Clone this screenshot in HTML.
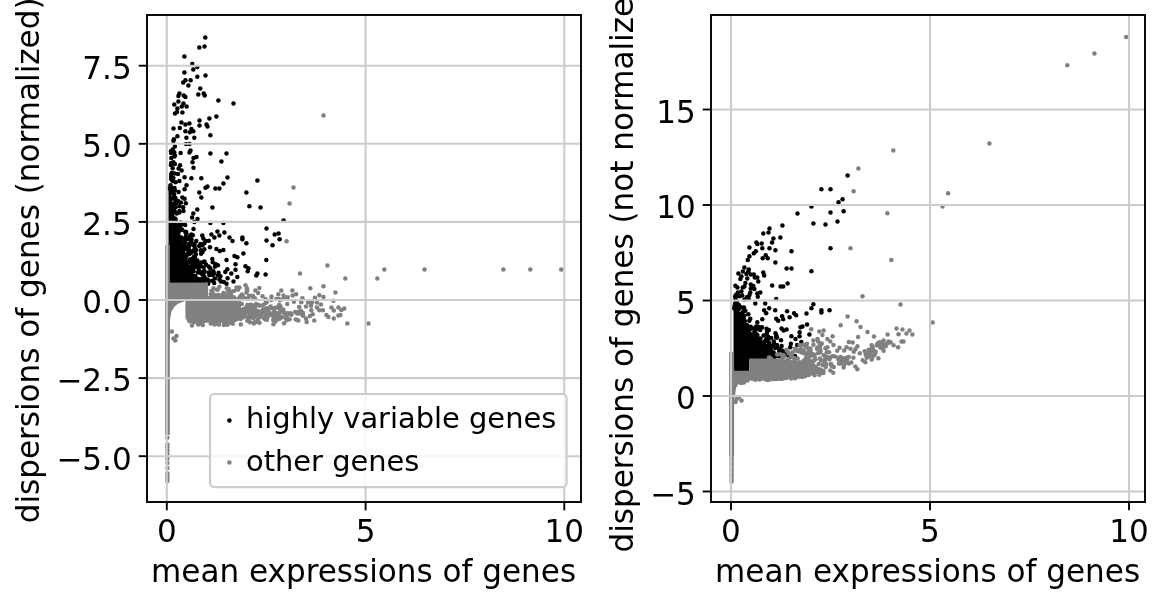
<!DOCTYPE html>
<html lang="en"><head><meta charset="utf-8"><title>highly variable genes</title>
<style>
html,body{margin:0;padding:0;background:#fff;}
body{width:1164px;height:604px;overflow:hidden;}
svg{display:block;will-change:transform;}
text{font-family:"DejaVu Sans", "Liberation Sans", sans-serif;fill:#000;}
.t{font-size:31.05px;}
.lg{font-size:28.9px;}
.sp{fill:none;stroke:#000;stroke-width:1.9;stroke-linecap:square;}
.tk{stroke:#000;stroke-width:1.9;}
.gr{stroke:#cccccc;stroke-width:2.1;}
.k{fill:#000;}
.g{fill:#808080;}
</style></head><body>
<svg width="1164" height="604" viewBox="0 0 1164 604">
<rect width="1164" height="604" fill="#fff"/>
<clipPath id="c0"><rect x="147" y="15" width="434" height="487"/></clipPath>
<g clip-path="url(#c0)">
<g class="k"><path d="M168.5,184 L171,184 L172,205 L176,222 L180,233 L184,247 L188,261 L194,275 L198,286.5 L168.5,286.5 Z"/><circle cx="205.3" cy="37.5" r="2.25"/><circle cx="199.3" cy="47.4" r="2.25"/><circle cx="204.5" cy="46.4" r="2.25"/><circle cx="184.4" cy="56.4" r="2.25"/><circle cx="192.3" cy="64.1" r="2.25"/><circle cx="197.3" cy="66.9" r="2.25"/><circle cx="193.3" cy="69.5" r="2.25"/><circle cx="184.4" cy="72.5" r="2.25"/><circle cx="205.5" cy="75.5" r="2.25"/><circle cx="197.3" cy="76.7" r="2.25"/><circle cx="190.6" cy="80.2" r="2.25"/><circle cx="185.4" cy="80.2" r="2.25"/><circle cx="183.2" cy="82.4" r="2.25"/><circle cx="188.4" cy="85.4" r="2.25"/><circle cx="200.3" cy="88.6" r="2.25"/><circle cx="179.4" cy="93.6" r="2.25"/><circle cx="198.3" cy="94.6" r="2.25"/><circle cx="203.7" cy="93.6" r="2.25"/><circle cx="204.7" cy="95.5" r="2.25"/><circle cx="178.4" cy="96.1" r="2.25"/><circle cx="183.8" cy="95.5" r="2.25"/><circle cx="185.4" cy="97.1" r="2.25"/><circle cx="218.4" cy="100.5" r="2.25"/><circle cx="233.5" cy="103.5" r="2.25"/><circle cx="178.4" cy="101.5" r="2.25"/><circle cx="174.3" cy="104.5" r="2.25"/><circle cx="183.4" cy="103.5" r="2.25"/><circle cx="181.8" cy="106.5" r="2.25"/><circle cx="186.6" cy="106.5" r="2.25"/><circle cx="177.4" cy="108.5" r="2.25"/><circle cx="177.0" cy="112.0" r="2.25"/><circle cx="175.0" cy="113.4" r="2.25"/><circle cx="182.4" cy="112.4" r="2.25"/><circle cx="216.4" cy="116.6" r="2.25"/><circle cx="209.4" cy="118.4" r="2.25"/><circle cx="199.5" cy="120.4" r="2.25"/><circle cx="181.4" cy="122.4" r="2.25"/><circle cx="185.4" cy="124.4" r="2.25"/><circle cx="189.4" cy="123.4" r="2.25"/><circle cx="199.5" cy="125.4" r="2.25"/><circle cx="206.5" cy="124.4" r="2.25"/><circle cx="207.5" cy="126.4" r="2.25"/><circle cx="173.5" cy="128.4" r="2.25"/><circle cx="179.8" cy="128.0" r="2.25"/><circle cx="191.4" cy="129.0" r="2.25"/><circle cx="185.4" cy="131.3" r="2.25"/><circle cx="189.8" cy="132.3" r="2.25"/><circle cx="193.3" cy="131.3" r="2.25"/><circle cx="210.4" cy="135.3" r="2.25"/><circle cx="177.4" cy="136.3" r="2.25"/><circle cx="186.4" cy="137.7" r="2.25"/><circle cx="194.3" cy="137.7" r="2.25"/><circle cx="173.9" cy="139.3" r="2.25"/><circle cx="210.4" cy="153.5" r="2.25"/><circle cx="226.5" cy="153.5" r="2.25"/><circle cx="221.4" cy="161.4" r="2.25"/><circle cx="227.5" cy="177.5" r="2.25"/><circle cx="257.4" cy="180.5" r="2.25"/><circle cx="223.4" cy="183.5" r="2.25"/><circle cx="201.3" cy="178.3" r="2.25"/><circle cx="191.4" cy="178.3" r="2.25"/><circle cx="184.6" cy="177.3" r="2.25"/><circle cx="207.5" cy="186.5" r="2.25"/><circle cx="205.5" cy="187.7" r="2.25"/><circle cx="215.4" cy="188.4" r="2.25"/><circle cx="219.4" cy="188.4" r="2.25"/><circle cx="246.4" cy="192.4" r="2.25"/><circle cx="199.3" cy="192.4" r="2.25"/><circle cx="201.3" cy="197.6" r="2.25"/><circle cx="249.4" cy="206.3" r="2.25"/><circle cx="260.5" cy="207.5" r="2.25"/><circle cx="212.4" cy="207.5" r="2.25"/><circle cx="197.3" cy="209.5" r="2.25"/><circle cx="193.3" cy="213.5" r="2.25"/><circle cx="283.6" cy="220.5" r="2.25"/><circle cx="210.4" cy="223.0" r="2.25"/><circle cx="223.4" cy="223.0" r="2.25"/><circle cx="194.3" cy="222.0" r="2.25"/><circle cx="266.5" cy="228.4" r="2.25"/><circle cx="217.4" cy="231.4" r="2.25"/><circle cx="224.4" cy="232.6" r="2.25"/><circle cx="211.4" cy="234.4" r="2.25"/><circle cx="219.4" cy="235.4" r="2.25"/><circle cx="214.4" cy="237.4" r="2.25"/><circle cx="274.7" cy="234.4" r="2.25"/><circle cx="278.6" cy="233.4" r="2.25"/><circle cx="279.6" cy="239.3" r="2.25"/><circle cx="266.5" cy="240.5" r="2.25"/><circle cx="272.5" cy="245.3" r="2.25"/><circle cx="242.4" cy="237.4" r="2.25"/><circle cx="242.4" cy="239.3" r="2.25"/><circle cx="246.4" cy="243.3" r="2.25"/><circle cx="229.5" cy="237.4" r="2.25"/><circle cx="232.5" cy="240.9" r="2.25"/><circle cx="202.3" cy="235.4" r="2.25"/><circle cx="203.3" cy="238.4" r="2.25"/><circle cx="191.4" cy="234.4" r="2.25"/><circle cx="191.4" cy="239.3" r="2.25"/><circle cx="204.3" cy="243.3" r="2.25"/><circle cx="201.3" cy="245.3" r="2.25"/><circle cx="216.4" cy="248.9" r="2.25"/><circle cx="223.4" cy="250.0" r="2.25"/><circle cx="173.4" cy="141.1" r="2.25"/><circle cx="186.1" cy="144.1" r="2.25"/><circle cx="189.5" cy="144.1" r="2.25"/><circle cx="174.9" cy="146.6" r="2.25"/><circle cx="172.7" cy="149.6" r="2.25"/><circle cx="190.5" cy="150.6" r="2.25"/><circle cx="189.5" cy="152.6" r="2.25"/><circle cx="171.2" cy="153.0" r="2.25"/><circle cx="180.6" cy="153.0" r="2.25"/><circle cx="174.9" cy="155.5" r="2.25"/><circle cx="196.5" cy="157.0" r="2.25"/><circle cx="193.5" cy="158.1" r="2.25"/><circle cx="192.5" cy="162.2" r="2.25"/><circle cx="171.2" cy="163.0" r="2.25"/><circle cx="173.4" cy="162.2" r="2.25"/><circle cx="174.9" cy="164.0" r="2.25"/><circle cx="180.1" cy="165.2" r="2.25"/><circle cx="193.5" cy="167.7" r="2.25"/><circle cx="172.7" cy="168.2" r="2.25"/><circle cx="178.6" cy="168.5" r="2.25"/><circle cx="181.6" cy="170.4" r="2.25"/><circle cx="171.9" cy="172.7" r="2.25"/><circle cx="177.9" cy="173.9" r="2.25"/><circle cx="171.2" cy="176.4" r="2.25"/><circle cx="173.4" cy="177.9" r="2.25"/><circle cx="179.4" cy="180.9" r="2.25"/><circle cx="175.6" cy="182.3" r="2.25"/><circle cx="172.7" cy="180.9" r="2.25"/><circle cx="186.5" cy="185.3" r="2.25"/><circle cx="184.6" cy="189.3" r="2.25"/><circle cx="174.9" cy="190.5" r="2.25"/><circle cx="178.6" cy="192.0" r="2.25"/><circle cx="174.1" cy="194.3" r="2.25"/><circle cx="182.3" cy="197.5" r="2.25"/><circle cx="184.6" cy="198.7" r="2.25"/><circle cx="177.9" cy="201.0" r="2.25"/><circle cx="180.9" cy="202.5" r="2.25"/><circle cx="185.8" cy="203.2" r="2.25"/><circle cx="179.4" cy="206.2" r="2.25"/><circle cx="183.1" cy="207.2" r="2.25"/><circle cx="179.4" cy="211.1" r="2.25"/><circle cx="183.5" cy="211.1" r="2.25"/><circle cx="226.5" cy="260.0" r="2.25"/><circle cx="266.3" cy="260.0" r="2.25"/><circle cx="235.5" cy="264.2" r="2.25"/><circle cx="245.5" cy="266.3" r="2.25"/><circle cx="248.4" cy="268.2" r="2.25"/><circle cx="247.7" cy="271.2" r="2.25"/><circle cx="235.5" cy="269.7" r="2.25"/><circle cx="227.3" cy="269.2" r="2.25"/><circle cx="225.3" cy="271.9" r="2.25"/><circle cx="231.3" cy="273.4" r="2.25"/><circle cx="257.4" cy="273.4" r="2.25"/><circle cx="256.3" cy="275.4" r="2.25"/><circle cx="265.6" cy="274.5" r="2.25"/><circle cx="237.3" cy="277.1" r="2.25"/><circle cx="227.6" cy="278.2" r="2.25"/><circle cx="233.5" cy="281.6" r="2.25"/><circle cx="223.8" cy="282.1" r="2.25"/><circle cx="226.5" cy="283.8" r="2.25"/><circle cx="217.9" cy="265.2" r="2.25"/><circle cx="214.9" cy="266.7" r="2.25"/><circle cx="212.7" cy="262.2" r="2.25"/><circle cx="204.5" cy="261.5" r="2.25"/><circle cx="206.0" cy="264.5" r="2.25"/><circle cx="203.7" cy="267.5" r="2.25"/><circle cx="213.4" cy="271.2" r="2.25"/><circle cx="218.6" cy="272.7" r="2.25"/><circle cx="217.9" cy="275.6" r="2.25"/><circle cx="212.7" cy="274.9" r="2.25"/><circle cx="214.9" cy="278.6" r="2.25"/><circle cx="219.4" cy="279.4" r="2.25"/><circle cx="220.9" cy="281.6" r="2.25"/><circle cx="208.9" cy="280.9" r="2.25"/><circle cx="214.2" cy="283.1" r="2.25"/><circle cx="202.2" cy="274.2" r="2.25"/><circle cx="201.5" cy="279.4" r="2.25"/><circle cx="204.5" cy="271.2" r="2.25"/><circle cx="200.8" cy="250.3" r="2.25"/><circle cx="202.5" cy="252.1" r="2.25"/><circle cx="194.5" cy="246.5" r="2.25"/><circle cx="195.2" cy="249.3" r="2.25"/><circle cx="219.8" cy="251.1" r="2.25"/><circle cx="243.4" cy="253.5" r="2.25"/><circle cx="234.5" cy="255.9" r="2.25"/><circle cx="237.4" cy="257.3" r="2.25"/><circle cx="212.3" cy="259.1" r="2.25"/><circle cx="204.3" cy="276.7" r="2.25"/><circle cx="200.8" cy="272.5" r="2.25"/><circle cx="198.7" cy="269.0" r="2.25"/><circle cx="197.3" cy="260.6" r="2.25"/><circle cx="198.0" cy="264.1" r="2.25"/><circle cx="193.8" cy="257.0" r="2.25"/><circle cx="195.9" cy="254.2" r="2.25"/><circle cx="190.9" cy="262.2" r="2.25"/><circle cx="202.3" cy="271.9" r="2.25"/><circle cx="192.0" cy="264.4" r="2.25"/><circle cx="176.6" cy="213.4" r="2.25"/><circle cx="190.3" cy="235.6" r="2.25"/><circle cx="199.7" cy="263.9" r="2.25"/><circle cx="175.5" cy="207.2" r="2.25"/><circle cx="172.4" cy="190.3" r="2.25"/><circle cx="188.6" cy="247.9" r="2.25"/><circle cx="173.7" cy="210.3" r="2.25"/><circle cx="189.1" cy="254.0" r="2.25"/><circle cx="175.8" cy="201.2" r="2.25"/><circle cx="184.5" cy="248.9" r="2.25"/><circle cx="190.0" cy="239.2" r="2.25"/><circle cx="175.5" cy="221.5" r="2.25"/><circle cx="177.3" cy="224.1" r="2.25"/><circle cx="201.0" cy="266.2" r="2.25"/><circle cx="189.0" cy="244.0" r="2.25"/><circle cx="189.4" cy="252.5" r="2.25"/><circle cx="172.8" cy="209.5" r="2.25"/><circle cx="204.2" cy="281.1" r="2.25"/><circle cx="193.4" cy="251.1" r="2.25"/><circle cx="202.1" cy="278.9" r="2.25"/><circle cx="176.0" cy="200.3" r="2.25"/><circle cx="190.5" cy="240.3" r="2.25"/><circle cx="187.7" cy="249.1" r="2.25"/><circle cx="177.0" cy="226.4" r="2.25"/><circle cx="198.9" cy="272.1" r="2.25"/><circle cx="169.4" cy="188.5" r="2.25"/><circle cx="189.7" cy="250.7" r="2.25"/><circle cx="199.3" cy="271.8" r="2.25"/><circle cx="190.4" cy="253.2" r="2.25"/><circle cx="194.0" cy="265.7" r="2.25"/><circle cx="196.7" cy="266.1" r="2.25"/><circle cx="196.7" cy="264.0" r="2.25"/><circle cx="174.3" cy="208.3" r="2.25"/><circle cx="176.5" cy="203.6" r="2.25"/><circle cx="184.6" cy="242.4" r="2.25"/><circle cx="207.7" cy="279.6" r="2.25"/><circle cx="189.5" cy="236.7" r="2.25"/><circle cx="191.2" cy="259.0" r="2.25"/><circle cx="203.9" cy="272.3" r="2.25"/><circle cx="172.7" cy="192.8" r="2.25"/><circle cx="205.4" cy="279.5" r="2.25"/><circle cx="191.4" cy="252.5" r="2.25"/><circle cx="200.8" cy="281.5" r="2.25"/><circle cx="172.6" cy="205.9" r="2.25"/><circle cx="194.9" cy="276.0" r="2.25"/><circle cx="188.9" cy="245.4" r="2.25"/><circle cx="194.5" cy="250.8" r="2.25"/><circle cx="185.2" cy="231.8" r="2.25"/><circle cx="173.4" cy="204.1" r="2.25"/><circle cx="195.2" cy="261.1" r="2.25"/><circle cx="194.8" cy="264.8" r="2.25"/><circle cx="193.8" cy="276.0" r="2.25"/><circle cx="170.6" cy="188.0" r="2.25"/><circle cx="174.5" cy="188.1" r="2.25"/><circle cx="187.7" cy="238.9" r="2.25"/><circle cx="188.9" cy="246.0" r="2.25"/><circle cx="195.9" cy="280.4" r="2.25"/><circle cx="175.5" cy="219.3" r="2.25"/><circle cx="186.6" cy="247.6" r="2.25"/><circle cx="192.9" cy="270.8" r="2.25"/><circle cx="184.6" cy="248.8" r="2.25"/><circle cx="193.1" cy="251.0" r="2.25"/><circle cx="197.2" cy="265.0" r="2.25"/><circle cx="193.5" cy="271.3" r="2.25"/><circle cx="197.9" cy="278.9" r="2.25"/><circle cx="179.3" cy="230.9" r="2.25"/><circle cx="182.4" cy="223.4" r="2.25"/><circle cx="194.4" cy="267.6" r="2.25"/><circle cx="183.4" cy="239.0" r="2.25"/><circle cx="174.9" cy="218.4" r="2.25"/><circle cx="190.0" cy="260.0" r="2.25"/><circle cx="171.1" cy="198.9" r="2.25"/><circle cx="179.4" cy="212.5" r="2.25"/><circle cx="187.7" cy="246.9" r="2.25"/><circle cx="201.4" cy="272.9" r="2.25"/><circle cx="195.2" cy="262.3" r="2.25"/><circle cx="180.6" cy="222.4" r="2.25"/><circle cx="189.8" cy="260.5" r="2.25"/><circle cx="190.2" cy="238.7" r="2.25"/><circle cx="175.0" cy="198.4" r="2.25"/><circle cx="194.5" cy="249.4" r="2.25"/><circle cx="204.6" cy="278.3" r="2.25"/><circle cx="178.0" cy="224.8" r="2.25"/><circle cx="194.9" cy="260.7" r="2.25"/><circle cx="182.2" cy="229.7" r="2.25"/><circle cx="186.6" cy="239.3" r="2.25"/><circle cx="195.0" cy="256.9" r="2.25"/><circle cx="195.4" cy="276.4" r="2.25"/><circle cx="191.1" cy="267.1" r="2.25"/><circle cx="173.6" cy="197.5" r="2.25"/><circle cx="179.9" cy="229.9" r="2.25"/><circle cx="203.7" cy="275.9" r="2.25"/><circle cx="171.1" cy="189.2" r="2.25"/><circle cx="186.4" cy="256.8" r="2.25"/><circle cx="208.2" cy="283.8" r="2.25"/><circle cx="173.9" cy="210.2" r="2.25"/><circle cx="173.2" cy="198.3" r="2.25"/><circle cx="175.3" cy="198.1" r="2.25"/><circle cx="186.2" cy="233.6" r="2.25"/><circle cx="174.9" cy="212.1" r="2.25"/><circle cx="185.7" cy="236.7" r="2.25"/><circle cx="185.2" cy="224.9" r="2.25"/><circle cx="171.5" cy="203.6" r="2.25"/><circle cx="199.0" cy="282.3" r="2.25"/><circle cx="202.2" cy="281.3" r="2.25"/><circle cx="172.8" cy="190.0" r="2.25"/><circle cx="172.4" cy="192.5" r="2.25"/><circle cx="202.8" cy="272.6" r="2.25"/><circle cx="196.4" cy="260.8" r="2.25"/><circle cx="188.0" cy="253.0" r="2.25"/><circle cx="192.4" cy="244.6" r="2.25"/><circle cx="184.7" cy="242.6" r="2.25"/><circle cx="196.2" cy="264.8" r="2.25"/><circle cx="200.3" cy="279.4" r="2.25"/><circle cx="188.7" cy="254.0" r="2.25"/><circle cx="190.4" cy="251.8" r="2.25"/><circle cx="195.4" cy="261.6" r="2.25"/><circle cx="186.2" cy="232.1" r="2.25"/><circle cx="181.2" cy="237.4" r="2.25"/><circle cx="191.3" cy="241.3" r="2.25"/><circle cx="184.1" cy="248.0" r="2.25"/><circle cx="184.3" cy="244.3" r="2.25"/><circle cx="197.8" cy="272.4" r="2.25"/><circle cx="192.8" cy="259.8" r="2.25"/><circle cx="196.2" cy="265.3" r="2.25"/><circle cx="197.1" cy="266.5" r="2.25"/><circle cx="180.6" cy="225.9" r="2.25"/><circle cx="208.7" cy="266.6" r="2.25"/><circle cx="210.0" cy="247.3" r="2.25"/><circle cx="196.1" cy="249.9" r="2.25"/><circle cx="212.0" cy="272.3" r="2.25"/><circle cx="213.9" cy="273.5" r="2.25"/><circle cx="199.2" cy="246.0" r="2.25"/><circle cx="192.1" cy="217.4" r="2.25"/><circle cx="211.0" cy="274.6" r="2.25"/><circle cx="201.1" cy="253.7" r="2.25"/><circle cx="203.7" cy="262.0" r="2.25"/><circle cx="194.6" cy="244.1" r="2.25"/><circle cx="192.8" cy="235.3" r="2.25"/><circle cx="202.7" cy="244.9" r="2.25"/><circle cx="208.8" cy="240.8" r="2.25"/><circle cx="212.4" cy="280.7" r="2.25"/><circle cx="196.3" cy="241.1" r="2.25"/><circle cx="220.4" cy="276.3" r="2.25"/><circle cx="201.0" cy="262.5" r="2.25"/><circle cx="209.3" cy="275.1" r="2.25"/><circle cx="204.3" cy="249.3" r="2.25"/><circle cx="200.5" cy="244.1" r="2.25"/><circle cx="208.5" cy="272.4" r="2.25"/><circle cx="210.2" cy="268.2" r="2.25"/><circle cx="205.6" cy="240.9" r="2.25"/><circle cx="193.5" cy="229.0" r="2.25"/><circle cx="215.4" cy="264.0" r="2.25"/><circle cx="197.5" cy="218.9" r="2.25"/><circle cx="211.6" cy="271.6" r="2.25"/><circle cx="174.4" cy="156.6" r="2.25"/><circle cx="174.6" cy="173.4" r="2.25"/><circle cx="171.3" cy="158.0" r="2.25"/><circle cx="171.7" cy="179.7" r="2.25"/><circle cx="171.7" cy="151.2" r="2.25"/><circle cx="171.2" cy="174.5" r="2.25"/><circle cx="171.1" cy="178.8" r="2.25"/><circle cx="171.3" cy="164.7" r="2.25"/><circle cx="170.9" cy="164.9" r="2.25"/><circle cx="171.0" cy="151.2" r="2.25"/><circle cx="170.9" cy="188.3" r="2.25"/><circle cx="174.2" cy="152.3" r="2.25"/><circle cx="173.3" cy="163.3" r="2.25"/><circle cx="170.6" cy="185.2" r="2.25"/></g>
<g class="g"><rect x="165.1" y="245" width="4.7" height="190"/><rect x="166" y="282.6" width="42" height="18"/><path d="M166,299 L186,299 L183.8,301.6 L177.9,303.8 L174.4,306.8 L171.4,311.7 L170.1,319.7 L169.9,329.6 L169.8,340 L166,340 Z"/><path d="M185.4,299 L241,299 L241,318 L238,321 L233,323 L226,321.5 L219,323.5 L212,321 L205,323 L198,321.5 L192,323 L187.5,321.5 L185.4,318 Z"/><circle cx="323.5" cy="115.4" r="2.25"/><circle cx="293.5" cy="187.5" r="2.25"/><circle cx="289.6" cy="203.6" r="2.25"/><circle cx="286.6" cy="241.3" r="2.25"/><circle cx="327.4" cy="265.4" r="2.25"/><circle cx="384.3" cy="269.4" r="2.25"/><circle cx="424.5" cy="269.4" r="2.25"/><circle cx="377.3" cy="278.4" r="2.25"/><circle cx="345.3" cy="278.4" r="2.25"/><circle cx="300.0" cy="273.4" r="2.25"/><circle cx="323.5" cy="286.3" r="2.25"/><circle cx="310.3" cy="288.3" r="2.25"/><circle cx="335.4" cy="292.5" r="2.25"/><circle cx="319.3" cy="295.3" r="2.25"/><circle cx="323.5" cy="297.1" r="2.25"/><circle cx="314.9" cy="297.7" r="2.25"/><circle cx="302.4" cy="298.3" r="2.25"/><circle cx="308.0" cy="302.6" r="2.25"/><circle cx="311.9" cy="302.6" r="2.25"/><circle cx="316.9" cy="302.6" r="2.25"/><circle cx="320.9" cy="304.6" r="2.25"/><circle cx="316.9" cy="307.6" r="2.25"/><circle cx="319.3" cy="310.2" r="2.25"/><circle cx="311.3" cy="310.2" r="2.25"/><circle cx="306.0" cy="306.6" r="2.25"/><circle cx="331.4" cy="307.6" r="2.25"/><circle cx="333.8" cy="310.6" r="2.25"/><circle cx="338.4" cy="307.6" r="2.25"/><circle cx="344.3" cy="308.6" r="2.25"/><circle cx="341.4" cy="310.0" r="2.25"/><circle cx="326.4" cy="315.1" r="2.25"/><circle cx="328.4" cy="317.1" r="2.25"/><circle cx="333.8" cy="318.5" r="2.25"/><circle cx="338.4" cy="315.5" r="2.25"/><circle cx="340.4" cy="315.1" r="2.25"/><circle cx="347.3" cy="323.5" r="2.25"/><circle cx="368.4" cy="323.5" r="2.25"/><circle cx="314.3" cy="320.5" r="2.25"/><circle cx="309.9" cy="316.1" r="2.25"/><circle cx="306.0" cy="318.5" r="2.25"/><circle cx="306.6" cy="321.9" r="2.25"/><circle cx="302.0" cy="312.6" r="2.25"/><circle cx="303.0" cy="315.5" r="2.25"/><circle cx="300.0" cy="313.6" r="2.25"/><circle cx="503.4" cy="269.4" r="2.25"/><circle cx="530.3" cy="269.4" r="2.25"/><circle cx="561.3" cy="269.4" r="2.25"/><circle cx="292.4" cy="290.6" r="2.25"/><circle cx="296.1" cy="294.3" r="2.25"/><circle cx="283.5" cy="295.5" r="2.25"/><circle cx="276.3" cy="299.0" r="2.25"/><circle cx="259.3" cy="288.0" r="2.25"/><circle cx="255.4" cy="290.6" r="2.25"/><circle cx="258.1" cy="293.1" r="2.25"/><circle cx="262.6" cy="296.2" r="2.25"/><circle cx="252.9" cy="295.8" r="2.25"/><circle cx="245.5" cy="285.3" r="2.25"/><circle cx="246.9" cy="288.3" r="2.25"/><circle cx="236.5" cy="287.6" r="2.25"/><circle cx="239.5" cy="287.6" r="2.25"/><circle cx="238.0" cy="289.8" r="2.25"/><circle cx="241.7" cy="294.6" r="2.25"/><circle cx="240.2" cy="296.5" r="2.25"/><circle cx="226.8" cy="288.3" r="2.25"/><circle cx="219.4" cy="286.8" r="2.25"/><circle cx="217.1" cy="289.8" r="2.25"/><circle cx="223.8" cy="293.1" r="2.25"/><circle cx="228.3" cy="295.8" r="2.25"/><circle cx="287.2" cy="304.0" r="2.25"/><circle cx="293.9" cy="301.7" r="2.25"/><circle cx="171.8" cy="331.5" r="2.25"/><circle cx="173.5" cy="338.5" r="2.25"/><circle cx="176.5" cy="336.0" r="2.25"/><circle cx="175.3" cy="340.5" r="2.25"/><circle cx="167.4" cy="437.7" r="2.25"/><circle cx="167.4" cy="444.5" r="2.25"/><circle cx="167.4" cy="447.5" r="2.25"/><circle cx="167.4" cy="450.5" r="2.25"/><circle cx="167.4" cy="453.8" r="2.25"/><circle cx="167.4" cy="458.8" r="2.25"/><circle cx="167.4" cy="463.0" r="2.25"/><circle cx="167.4" cy="468.0" r="2.25"/><circle cx="167.4" cy="473.5" r="2.25"/><circle cx="167.4" cy="476.0" r="2.25"/><circle cx="167.4" cy="478.5" r="2.25"/><circle cx="167.4" cy="481.0" r="2.25"/><circle cx="258.7" cy="304.9" r="2.25"/><circle cx="226.7" cy="318.7" r="2.25"/><circle cx="230.1" cy="313.7" r="2.25"/><circle cx="194.7" cy="316.7" r="2.25"/><circle cx="225.3" cy="304.3" r="2.25"/><circle cx="243.9" cy="309.3" r="2.25"/><circle cx="203.4" cy="309.8" r="2.25"/><circle cx="250.0" cy="322.3" r="2.25"/><circle cx="204.2" cy="311.3" r="2.25"/><circle cx="189.7" cy="304.7" r="2.25"/><circle cx="207.2" cy="314.2" r="2.25"/><circle cx="202.4" cy="307.6" r="2.25"/><circle cx="195.0" cy="315.6" r="2.25"/><circle cx="223.2" cy="318.1" r="2.25"/><circle cx="194.9" cy="313.6" r="2.25"/><circle cx="256.1" cy="304.1" r="2.25"/><circle cx="196.8" cy="311.4" r="2.25"/><circle cx="219.4" cy="303.0" r="2.25"/><circle cx="197.1" cy="308.5" r="2.25"/><circle cx="210.1" cy="310.2" r="2.25"/><circle cx="230.3" cy="314.5" r="2.25"/><circle cx="225.3" cy="312.2" r="2.25"/><circle cx="201.4" cy="314.7" r="2.25"/><circle cx="229.2" cy="321.6" r="2.25"/><circle cx="198.3" cy="313.4" r="2.25"/><circle cx="204.7" cy="316.1" r="2.25"/><circle cx="215.1" cy="311.9" r="2.25"/><circle cx="194.0" cy="322.2" r="2.25"/><circle cx="212.1" cy="311.8" r="2.25"/><circle cx="218.8" cy="319.4" r="2.25"/><circle cx="247.4" cy="320.7" r="2.25"/><circle cx="262.6" cy="312.1" r="2.25"/><circle cx="295.8" cy="319.5" r="2.25"/><circle cx="200.8" cy="306.8" r="2.25"/><circle cx="220.9" cy="308.7" r="2.25"/><circle cx="215.2" cy="317.7" r="2.25"/><circle cx="222.9" cy="314.9" r="2.25"/><circle cx="199.2" cy="317.3" r="2.25"/><circle cx="212.6" cy="318.0" r="2.25"/><circle cx="199.9" cy="307.1" r="2.25"/><circle cx="202.0" cy="308.0" r="2.25"/><circle cx="302.9" cy="315.4" r="2.25"/><circle cx="205.6" cy="312.3" r="2.25"/><circle cx="198.7" cy="316.7" r="2.25"/><circle cx="233.6" cy="310.1" r="2.25"/><circle cx="214.3" cy="324.2" r="2.25"/><circle cx="229.2" cy="312.7" r="2.25"/><circle cx="209.5" cy="320.3" r="2.25"/><circle cx="231.8" cy="307.2" r="2.25"/><circle cx="217.2" cy="314.6" r="2.25"/><circle cx="213.4" cy="303.2" r="2.25"/><circle cx="281.9" cy="317.2" r="2.25"/><circle cx="197.2" cy="310.9" r="2.25"/><circle cx="198.4" cy="315.1" r="2.25"/><circle cx="216.9" cy="314.8" r="2.25"/><circle cx="220.6" cy="310.3" r="2.25"/><circle cx="218.7" cy="318.3" r="2.25"/><circle cx="219.6" cy="310.3" r="2.25"/><circle cx="216.1" cy="315.9" r="2.25"/><circle cx="208.6" cy="306.4" r="2.25"/><circle cx="225.1" cy="311.7" r="2.25"/><circle cx="213.4" cy="323.2" r="2.25"/><circle cx="222.9" cy="310.3" r="2.25"/><circle cx="192.2" cy="314.3" r="2.25"/><circle cx="267.6" cy="310.5" r="2.25"/><circle cx="190.2" cy="320.8" r="2.25"/><circle cx="227.6" cy="316.1" r="2.25"/><circle cx="203.3" cy="308.0" r="2.25"/><circle cx="191.1" cy="315.3" r="2.25"/><circle cx="204.1" cy="302.7" r="2.25"/><circle cx="224.4" cy="308.3" r="2.25"/><circle cx="197.0" cy="308.4" r="2.25"/><circle cx="223.0" cy="313.6" r="2.25"/><circle cx="229.0" cy="323.1" r="2.25"/><circle cx="191.8" cy="306.8" r="2.25"/><circle cx="219.6" cy="309.5" r="2.25"/><circle cx="188.1" cy="300.7" r="2.25"/><circle cx="199.2" cy="303.6" r="2.25"/><circle cx="214.2" cy="311.5" r="2.25"/><circle cx="196.8" cy="311.3" r="2.25"/><circle cx="197.5" cy="308.4" r="2.25"/><circle cx="237.7" cy="312.4" r="2.25"/><circle cx="225.5" cy="323.0" r="2.25"/><circle cx="198.8" cy="315.5" r="2.25"/><circle cx="191.4" cy="319.4" r="2.25"/><circle cx="209.6" cy="311.6" r="2.25"/><circle cx="199.2" cy="312.2" r="2.25"/><circle cx="212.0" cy="311.6" r="2.25"/><circle cx="283.5" cy="311.6" r="2.25"/><circle cx="224.2" cy="311.9" r="2.25"/><circle cx="201.7" cy="314.7" r="2.25"/><circle cx="253.3" cy="306.9" r="2.25"/><circle cx="200.9" cy="316.7" r="2.25"/><circle cx="205.6" cy="312.5" r="2.25"/><circle cx="263.0" cy="309.5" r="2.25"/><circle cx="198.4" cy="308.9" r="2.25"/><circle cx="189.8" cy="301.0" r="2.25"/><circle cx="238.1" cy="309.7" r="2.25"/><circle cx="189.6" cy="314.8" r="2.25"/><circle cx="232.8" cy="304.0" r="2.25"/><circle cx="228.5" cy="310.8" r="2.25"/><circle cx="203.9" cy="314.8" r="2.25"/><circle cx="229.9" cy="301.2" r="2.25"/><circle cx="196.9" cy="303.6" r="2.25"/><circle cx="278.8" cy="315.5" r="2.25"/><circle cx="261.8" cy="312.0" r="2.25"/><circle cx="216.6" cy="308.0" r="2.25"/><circle cx="217.1" cy="305.6" r="2.25"/><circle cx="224.4" cy="308.8" r="2.25"/><circle cx="255.9" cy="312.7" r="2.25"/><circle cx="218.0" cy="315.9" r="2.25"/><circle cx="222.2" cy="314.2" r="2.25"/><circle cx="197.4" cy="315.1" r="2.25"/><circle cx="273.2" cy="320.0" r="2.25"/><circle cx="234.4" cy="314.6" r="2.25"/><circle cx="212.3" cy="304.2" r="2.25"/><circle cx="211.4" cy="310.6" r="2.25"/><circle cx="248.9" cy="305.5" r="2.25"/><circle cx="204.1" cy="312.4" r="2.25"/><circle cx="199.8" cy="302.5" r="2.25"/><circle cx="287.2" cy="313.2" r="2.25"/><circle cx="205.9" cy="312.4" r="2.25"/><circle cx="190.1" cy="314.5" r="2.25"/><circle cx="278.8" cy="313.3" r="2.25"/><circle cx="191.9" cy="325.5" r="2.25"/><circle cx="241.5" cy="310.2" r="2.25"/><circle cx="207.9" cy="316.2" r="2.25"/><circle cx="193.0" cy="311.4" r="2.25"/><circle cx="194.2" cy="306.5" r="2.25"/><circle cx="214.8" cy="300.7" r="2.25"/><circle cx="245.1" cy="310.5" r="2.25"/><circle cx="192.4" cy="310.6" r="2.25"/><circle cx="248.1" cy="310.3" r="2.25"/><circle cx="211.4" cy="315.0" r="2.25"/><circle cx="188.1" cy="306.7" r="2.25"/><circle cx="196.3" cy="308.6" r="2.25"/><circle cx="227.9" cy="308.0" r="2.25"/><circle cx="193.7" cy="312.8" r="2.25"/><circle cx="253.7" cy="318.0" r="2.25"/><circle cx="225.3" cy="311.5" r="2.25"/><circle cx="207.7" cy="316.1" r="2.25"/><circle cx="220.5" cy="311.8" r="2.25"/><circle cx="219.6" cy="318.7" r="2.25"/><circle cx="189.0" cy="302.1" r="2.25"/><circle cx="188.7" cy="311.6" r="2.25"/><circle cx="198.3" cy="318.8" r="2.25"/><circle cx="194.5" cy="316.0" r="2.25"/><circle cx="219.3" cy="316.9" r="2.25"/><circle cx="195.1" cy="315.8" r="2.25"/><circle cx="232.4" cy="313.3" r="2.25"/><circle cx="266.4" cy="308.2" r="2.25"/><circle cx="195.4" cy="314.1" r="2.25"/><circle cx="274.4" cy="311.9" r="2.25"/><circle cx="188.1" cy="310.8" r="2.25"/><circle cx="192.1" cy="311.5" r="2.25"/><circle cx="272.0" cy="308.1" r="2.25"/><circle cx="254.7" cy="316.6" r="2.25"/><circle cx="206.1" cy="312.9" r="2.25"/><circle cx="212.0" cy="318.2" r="2.25"/><circle cx="199.9" cy="322.7" r="2.25"/><circle cx="198.4" cy="315.7" r="2.25"/><circle cx="229.0" cy="313.0" r="2.25"/><circle cx="197.9" cy="304.6" r="2.25"/><circle cx="218.9" cy="311.9" r="2.25"/><circle cx="291.4" cy="314.8" r="2.25"/><circle cx="196.8" cy="313.2" r="2.25"/><circle cx="201.1" cy="312.0" r="2.25"/><circle cx="188.4" cy="308.7" r="2.25"/><circle cx="250.1" cy="317.7" r="2.25"/><circle cx="190.4" cy="312.4" r="2.25"/><circle cx="197.8" cy="317.3" r="2.25"/><circle cx="268.1" cy="309.4" r="2.25"/><circle cx="201.5" cy="313.5" r="2.25"/><circle cx="222.1" cy="318.7" r="2.25"/><circle cx="206.1" cy="318.3" r="2.25"/><circle cx="276.1" cy="307.5" r="2.25"/><circle cx="297.1" cy="313.4" r="2.25"/><circle cx="231.5" cy="310.5" r="2.25"/><circle cx="193.3" cy="318.1" r="2.25"/><circle cx="276.4" cy="315.6" r="2.25"/><circle cx="219.9" cy="308.7" r="2.25"/><circle cx="188.3" cy="311.3" r="2.25"/><circle cx="193.5" cy="309.0" r="2.25"/><circle cx="215.0" cy="312.3" r="2.25"/><circle cx="205.0" cy="309.6" r="2.25"/><circle cx="211.8" cy="313.2" r="2.25"/><circle cx="298.3" cy="320.4" r="2.25"/><circle cx="219.0" cy="324.4" r="2.25"/><circle cx="217.7" cy="316.5" r="2.25"/><circle cx="212.9" cy="322.1" r="2.25"/><circle cx="233.5" cy="301.9" r="2.25"/><circle cx="281.3" cy="317.1" r="2.25"/><circle cx="248.5" cy="316.8" r="2.25"/><circle cx="211.4" cy="314.5" r="2.25"/><circle cx="188.7" cy="311.1" r="2.25"/><circle cx="230.8" cy="300.2" r="2.25"/><circle cx="199.6" cy="306.2" r="2.25"/><circle cx="227.6" cy="311.1" r="2.25"/><circle cx="266.8" cy="315.3" r="2.25"/><circle cx="273.4" cy="308.4" r="2.25"/><circle cx="269.8" cy="313.2" r="2.25"/><circle cx="211.3" cy="311.2" r="2.25"/><circle cx="191.2" cy="310.8" r="2.25"/><circle cx="211.8" cy="312.1" r="2.25"/><circle cx="226.5" cy="315.4" r="2.25"/><circle cx="262.9" cy="311.3" r="2.25"/><circle cx="191.0" cy="310.7" r="2.25"/><circle cx="203.1" cy="307.0" r="2.25"/><circle cx="258.0" cy="310.9" r="2.25"/><circle cx="235.7" cy="308.1" r="2.25"/><circle cx="194.6" cy="313.8" r="2.25"/><circle cx="273.4" cy="324.3" r="2.25"/><circle cx="254.3" cy="322.6" r="2.25"/><circle cx="196.6" cy="308.1" r="2.25"/><circle cx="196.8" cy="312.0" r="2.25"/><circle cx="207.5" cy="310.4" r="2.25"/><circle cx="210.6" cy="310.8" r="2.25"/><circle cx="250.6" cy="314.9" r="2.25"/><circle cx="244.7" cy="308.9" r="2.25"/><circle cx="188.5" cy="313.0" r="2.25"/><circle cx="195.2" cy="302.2" r="2.25"/><circle cx="266.5" cy="302.2" r="2.25"/><circle cx="206.9" cy="320.5" r="2.25"/><circle cx="238.1" cy="316.1" r="2.25"/><circle cx="208.4" cy="313.6" r="2.25"/><circle cx="216.6" cy="311.8" r="2.25"/><circle cx="218.5" cy="321.7" r="2.25"/><circle cx="216.8" cy="312.8" r="2.25"/><circle cx="205.5" cy="315.0" r="2.25"/><circle cx="233.9" cy="317.0" r="2.25"/><circle cx="194.3" cy="321.0" r="2.25"/><circle cx="233.9" cy="310.9" r="2.25"/><circle cx="245.1" cy="310.9" r="2.25"/><circle cx="205.2" cy="310.4" r="2.25"/><circle cx="257.2" cy="313.7" r="2.25"/><circle cx="257.9" cy="319.2" r="2.25"/><circle cx="269.2" cy="308.6" r="2.25"/><circle cx="237.7" cy="318.0" r="2.25"/><circle cx="208.5" cy="308.2" r="2.25"/><circle cx="230.9" cy="317.1" r="2.25"/><circle cx="190.8" cy="305.5" r="2.25"/><circle cx="224.2" cy="308.5" r="2.25"/><circle cx="238.1" cy="316.7" r="2.25"/><circle cx="204.9" cy="314.5" r="2.25"/><circle cx="216.4" cy="318.5" r="2.25"/><circle cx="205.5" cy="316.6" r="2.25"/><circle cx="233.3" cy="308.5" r="2.25"/><circle cx="242.0" cy="312.1" r="2.25"/><circle cx="222.8" cy="320.2" r="2.25"/><circle cx="192.3" cy="305.6" r="2.25"/><circle cx="206.1" cy="310.7" r="2.25"/><circle cx="192.2" cy="310.4" r="2.25"/><circle cx="189.4" cy="300.0" r="2.25"/><circle cx="200.3" cy="312.5" r="2.25"/><circle cx="254.5" cy="308.0" r="2.25"/><circle cx="285.7" cy="317.9" r="2.25"/><circle cx="243.8" cy="309.1" r="2.25"/><circle cx="286.3" cy="315.3" r="2.25"/><circle cx="196.0" cy="315.9" r="2.25"/><circle cx="303.0" cy="312.9" r="2.25"/><circle cx="189.3" cy="308.6" r="2.25"/><circle cx="201.9" cy="309.7" r="2.25"/><circle cx="215.3" cy="305.6" r="2.25"/><circle cx="226.8" cy="307.5" r="2.25"/><circle cx="189.2" cy="317.2" r="2.25"/><circle cx="220.0" cy="314.1" r="2.25"/><circle cx="206.4" cy="316.0" r="2.25"/><circle cx="196.1" cy="318.9" r="2.25"/><circle cx="283.3" cy="309.6" r="2.25"/><circle cx="189.4" cy="307.9" r="2.25"/><circle cx="237.8" cy="308.7" r="2.25"/><circle cx="213.9" cy="307.8" r="2.25"/><circle cx="223.2" cy="308.3" r="2.25"/><circle cx="209.2" cy="311.8" r="2.25"/><circle cx="240.1" cy="316.1" r="2.25"/><circle cx="259.5" cy="322.7" r="2.25"/><circle cx="199.6" cy="311.8" r="2.25"/><circle cx="202.8" cy="325.1" r="2.25"/><circle cx="196.8" cy="312.4" r="2.25"/><circle cx="188.2" cy="308.2" r="2.25"/><circle cx="242.7" cy="313.0" r="2.25"/><circle cx="255.0" cy="312.6" r="2.25"/><circle cx="223.8" cy="324.9" r="2.25"/><circle cx="200.5" cy="303.8" r="2.25"/><circle cx="224.4" cy="311.6" r="2.25"/><circle cx="223.7" cy="314.6" r="2.25"/><circle cx="252.5" cy="310.3" r="2.25"/><circle cx="213.4" cy="303.2" r="2.25"/><circle cx="273.2" cy="316.3" r="2.25"/><circle cx="227.0" cy="312.5" r="2.25"/><circle cx="250.3" cy="309.7" r="2.25"/><circle cx="210.0" cy="302.2" r="2.25"/><circle cx="227.0" cy="321.1" r="2.25"/><circle cx="262.1" cy="311.3" r="2.25"/><circle cx="196.2" cy="309.7" r="2.25"/><circle cx="276.1" cy="313.1" r="2.25"/><circle cx="188.1" cy="311.1" r="2.25"/><circle cx="189.9" cy="308.6" r="2.25"/><circle cx="196.1" cy="309.0" r="2.25"/><circle cx="222.7" cy="318.6" r="2.25"/><circle cx="199.7" cy="319.3" r="2.25"/><circle cx="195.8" cy="310.7" r="2.25"/><circle cx="193.5" cy="308.8" r="2.25"/><circle cx="203.9" cy="302.4" r="2.25"/><circle cx="243.3" cy="312.6" r="2.25"/><circle cx="233.5" cy="317.8" r="2.25"/><circle cx="188.8" cy="310.5" r="2.25"/><circle cx="239.9" cy="314.8" r="2.25"/><circle cx="205.0" cy="310.1" r="2.25"/><circle cx="191.6" cy="321.0" r="2.25"/><circle cx="263.2" cy="305.1" r="2.25"/><circle cx="230.5" cy="304.6" r="2.25"/><circle cx="189.7" cy="318.6" r="2.25"/><circle cx="251.0" cy="304.7" r="2.25"/><circle cx="230.7" cy="319.2" r="2.25"/><circle cx="210.7" cy="308.3" r="2.25"/><circle cx="210.3" cy="313.5" r="2.25"/><circle cx="265.8" cy="319.6" r="2.25"/><circle cx="240.4" cy="319.1" r="2.25"/><circle cx="193.9" cy="315.2" r="2.25"/><circle cx="188.9" cy="313.2" r="2.25"/><circle cx="203.0" cy="316.8" r="2.25"/><circle cx="205.4" cy="306.9" r="2.25"/><circle cx="260.5" cy="316.7" r="2.25"/><circle cx="216.8" cy="317.1" r="2.25"/><circle cx="243.0" cy="314.6" r="2.25"/><circle cx="280.4" cy="309.9" r="2.25"/><circle cx="197.1" cy="306.4" r="2.25"/><circle cx="193.9" cy="318.1" r="2.25"/><circle cx="204.5" cy="305.7" r="2.25"/><circle cx="236.9" cy="305.9" r="2.25"/><circle cx="224.1" cy="314.6" r="2.25"/><circle cx="239.8" cy="316.9" r="2.25"/><circle cx="211.0" cy="307.0" r="2.25"/><circle cx="204.8" cy="316.0" r="2.25"/><circle cx="193.9" cy="311.1" r="2.25"/><circle cx="231.2" cy="308.6" r="2.25"/><circle cx="221.3" cy="312.0" r="2.25"/><circle cx="218.5" cy="316.1" r="2.25"/><circle cx="211.7" cy="318.9" r="2.25"/><circle cx="219.3" cy="308.9" r="2.25"/><circle cx="250.6" cy="315.6" r="2.25"/><circle cx="219.6" cy="319.7" r="2.25"/><circle cx="196.8" cy="317.4" r="2.25"/><circle cx="215.2" cy="313.0" r="2.25"/><circle cx="195.3" cy="305.3" r="2.25"/><circle cx="216.2" cy="320.7" r="2.25"/><circle cx="197.3" cy="318.4" r="2.25"/><circle cx="254.9" cy="322.2" r="2.25"/><circle cx="264.4" cy="312.1" r="2.25"/><circle cx="205.8" cy="311.7" r="2.25"/><circle cx="195.2" cy="302.5" r="2.25"/><circle cx="246.9" cy="307.9" r="2.25"/><circle cx="217.0" cy="316.7" r="2.25"/><circle cx="243.9" cy="316.9" r="2.25"/><circle cx="199.6" cy="317.7" r="2.25"/><circle cx="227.0" cy="315.7" r="2.25"/><circle cx="221.2" cy="313.4" r="2.25"/><circle cx="193.9" cy="313.2" r="2.25"/><circle cx="255.0" cy="305.3" r="2.25"/><circle cx="201.0" cy="321.5" r="2.25"/><circle cx="190.1" cy="310.4" r="2.25"/><circle cx="191.8" cy="316.4" r="2.25"/><circle cx="199.0" cy="315.6" r="2.25"/><circle cx="194.6" cy="314.6" r="2.25"/><circle cx="228.1" cy="319.6" r="2.25"/><circle cx="247.5" cy="311.7" r="2.25"/><circle cx="199.1" cy="316.5" r="2.25"/><circle cx="235.3" cy="314.6" r="2.25"/><circle cx="193.2" cy="307.8" r="2.25"/><circle cx="270.6" cy="306.5" r="2.25"/><circle cx="238.7" cy="302.6" r="2.25"/><circle cx="279.2" cy="304.7" r="2.25"/><circle cx="214.3" cy="314.3" r="2.25"/><circle cx="195.2" cy="303.6" r="2.25"/><circle cx="242.2" cy="317.6" r="2.25"/><circle cx="199.3" cy="310.0" r="2.25"/><circle cx="222.9" cy="310.4" r="2.25"/><circle cx="228.1" cy="314.2" r="2.25"/><circle cx="191.6" cy="304.2" r="2.25"/><circle cx="194.2" cy="314.5" r="2.25"/><circle cx="189.9" cy="314.9" r="2.25"/><circle cx="237.7" cy="303.0" r="2.25"/><circle cx="229.5" cy="314.7" r="2.25"/><circle cx="212.5" cy="300.5" r="2.25"/><circle cx="248.0" cy="316.9" r="2.25"/><circle cx="301.3" cy="302.2" r="2.25"/><circle cx="248.2" cy="306.7" r="2.25"/><circle cx="286.8" cy="320.3" r="2.25"/><circle cx="242.2" cy="313.5" r="2.25"/><circle cx="207.8" cy="315.3" r="2.25"/><circle cx="196.4" cy="315.5" r="2.25"/><circle cx="255.1" cy="308.1" r="2.25"/><circle cx="222.1" cy="320.8" r="2.25"/><circle cx="204.9" cy="311.8" r="2.25"/><circle cx="193.4" cy="310.7" r="2.25"/><circle cx="222.8" cy="303.1" r="2.25"/><circle cx="199.0" cy="306.4" r="2.25"/><circle cx="253.7" cy="323.4" r="2.25"/><circle cx="213.9" cy="311.8" r="2.25"/><circle cx="191.9" cy="307.4" r="2.25"/><circle cx="203.8" cy="316.8" r="2.25"/><circle cx="208.1" cy="310.4" r="2.25"/><circle cx="203.4" cy="320.7" r="2.25"/><circle cx="260.9" cy="314.3" r="2.25"/><circle cx="214.4" cy="305.9" r="2.25"/><circle cx="206.0" cy="319.8" r="2.25"/><circle cx="205.5" cy="314.5" r="2.25"/><circle cx="222.9" cy="321.1" r="2.25"/><circle cx="193.3" cy="309.8" r="2.25"/><circle cx="213.4" cy="313.6" r="2.25"/><circle cx="188.3" cy="314.8" r="2.25"/><circle cx="205.7" cy="309.7" r="2.25"/><circle cx="194.3" cy="309.3" r="2.25"/><circle cx="283.7" cy="312.8" r="2.25"/><circle cx="227.9" cy="312.9" r="2.25"/><circle cx="247.3" cy="305.1" r="2.25"/><circle cx="222.4" cy="307.2" r="2.25"/><circle cx="219.0" cy="321.4" r="2.25"/><circle cx="204.2" cy="310.0" r="2.25"/><circle cx="224.0" cy="304.1" r="2.25"/><circle cx="195.8" cy="308.1" r="2.25"/><circle cx="279.1" cy="307.9" r="2.25"/><circle cx="213.9" cy="310.9" r="2.25"/><circle cx="230.0" cy="304.4" r="2.25"/><circle cx="216.7" cy="314.7" r="2.25"/><circle cx="276.6" cy="319.9" r="2.25"/><circle cx="198.2" cy="324.4" r="2.25"/><circle cx="265.5" cy="302.9" r="2.25"/><circle cx="206.1" cy="319.1" r="2.25"/><circle cx="206.8" cy="314.8" r="2.25"/><circle cx="230.5" cy="306.8" r="2.25"/><circle cx="223.4" cy="309.5" r="2.25"/><circle cx="204.5" cy="315.9" r="2.25"/><circle cx="301.0" cy="310.9" r="2.25"/><circle cx="197.4" cy="313.2" r="2.25"/><circle cx="206.9" cy="317.5" r="2.25"/><circle cx="195.8" cy="316.2" r="2.25"/><circle cx="188.5" cy="310.6" r="2.25"/><circle cx="226.6" cy="320.5" r="2.25"/><circle cx="192.0" cy="306.2" r="2.25"/><circle cx="230.6" cy="310.1" r="2.25"/><circle cx="195.8" cy="309.5" r="2.25"/><circle cx="257.9" cy="321.9" r="2.25"/><circle cx="189.6" cy="321.2" r="2.25"/><circle cx="220.0" cy="320.2" r="2.25"/><circle cx="201.4" cy="315.7" r="2.25"/><circle cx="207.4" cy="305.3" r="2.25"/><circle cx="213.2" cy="321.2" r="2.25"/><circle cx="217.5" cy="316.3" r="2.25"/><circle cx="192.8" cy="308.0" r="2.25"/><circle cx="189.0" cy="306.7" r="2.25"/><circle cx="234.2" cy="309.1" r="2.25"/><circle cx="249.8" cy="313.7" r="2.25"/><circle cx="250.8" cy="305.0" r="2.25"/><circle cx="205.9" cy="318.3" r="2.25"/><circle cx="225.0" cy="310.3" r="2.25"/><circle cx="234.8" cy="315.6" r="2.25"/><circle cx="236.9" cy="303.3" r="2.25"/><circle cx="289.5" cy="319.2" r="2.25"/><circle cx="236.8" cy="312.0" r="2.25"/><circle cx="223.8" cy="305.7" r="2.25"/><circle cx="275.4" cy="321.5" r="2.25"/><circle cx="212.7" cy="309.7" r="2.25"/><circle cx="205.3" cy="309.4" r="2.25"/><circle cx="217.7" cy="317.0" r="2.25"/><circle cx="218.2" cy="311.6" r="2.25"/><circle cx="288.9" cy="313.7" r="2.25"/><circle cx="205.2" cy="320.4" r="2.25"/><circle cx="198.9" cy="305.9" r="2.25"/><circle cx="200.9" cy="312.4" r="2.25"/><circle cx="217.2" cy="313.9" r="2.25"/><circle cx="210.6" cy="311.6" r="2.25"/><circle cx="264.1" cy="318.4" r="2.25"/><circle cx="197.3" cy="312.0" r="2.25"/><circle cx="215.7" cy="308.9" r="2.25"/><circle cx="217.7" cy="312.2" r="2.25"/><circle cx="191.8" cy="308.9" r="2.25"/><circle cx="239.5" cy="316.2" r="2.25"/><circle cx="263.8" cy="309.5" r="2.25"/><circle cx="216.0" cy="302.8" r="2.25"/><circle cx="202.2" cy="316.2" r="2.25"/><circle cx="210.7" cy="314.1" r="2.25"/><circle cx="222.8" cy="315.9" r="2.25"/><circle cx="240.8" cy="324.5" r="2.25"/><circle cx="282.8" cy="311.6" r="2.25"/><circle cx="237.1" cy="314.8" r="2.25"/><circle cx="252.3" cy="313.3" r="2.25"/><circle cx="197.3" cy="300.8" r="2.25"/><circle cx="198.3" cy="310.2" r="2.25"/><circle cx="211.6" cy="310.1" r="2.25"/><circle cx="195.2" cy="312.2" r="2.25"/><circle cx="266.9" cy="316.7" r="2.25"/><circle cx="232.4" cy="311.2" r="2.25"/><circle cx="196.5" cy="307.8" r="2.25"/><circle cx="204.8" cy="317.8" r="2.25"/><circle cx="272.6" cy="314.6" r="2.25"/><circle cx="207.1" cy="306.3" r="2.25"/><circle cx="202.2" cy="307.1" r="2.25"/><circle cx="220.5" cy="313.9" r="2.25"/><circle cx="214.2" cy="312.8" r="2.25"/><circle cx="230.0" cy="308.4" r="2.25"/><circle cx="198.7" cy="320.8" r="2.25"/><circle cx="220.8" cy="308.7" r="2.25"/><circle cx="188.9" cy="306.6" r="2.25"/><circle cx="223.2" cy="313.8" r="2.25"/><circle cx="227.0" cy="307.8" r="2.25"/><circle cx="215.6" cy="318.2" r="2.25"/><circle cx="189.5" cy="312.6" r="2.25"/><circle cx="245.8" cy="308.3" r="2.25"/><circle cx="200.5" cy="323.5" r="2.25"/><circle cx="202.8" cy="309.0" r="2.25"/><circle cx="269.8" cy="314.3" r="2.25"/><circle cx="192.9" cy="312.8" r="2.25"/><circle cx="202.6" cy="313.3" r="2.25"/><circle cx="237.5" cy="304.8" r="2.25"/><circle cx="191.4" cy="311.2" r="2.25"/><circle cx="203.0" cy="300.2" r="2.25"/><circle cx="203.6" cy="309.8" r="2.25"/><circle cx="211.2" cy="310.6" r="2.25"/><circle cx="201.2" cy="314.0" r="2.25"/><circle cx="194.8" cy="306.6" r="2.25"/><circle cx="189.3" cy="312.3" r="2.25"/><circle cx="198.3" cy="308.6" r="2.25"/><circle cx="233.7" cy="312.2" r="2.25"/><circle cx="189.5" cy="305.8" r="2.25"/><circle cx="209.8" cy="316.5" r="2.25"/><circle cx="213.0" cy="316.3" r="2.25"/><circle cx="202.9" cy="302.5" r="2.25"/><circle cx="282.4" cy="311.4" r="2.25"/><circle cx="196.7" cy="308.9" r="2.25"/><circle cx="205.8" cy="300.4" r="2.25"/><circle cx="248.0" cy="305.2" r="2.25"/><circle cx="205.7" cy="309.7" r="2.25"/><circle cx="259.7" cy="305.7" r="2.25"/><circle cx="197.7" cy="311.6" r="2.25"/><circle cx="268.2" cy="316.3" r="2.25"/><circle cx="211.6" cy="307.7" r="2.25"/><circle cx="213.8" cy="314.5" r="2.25"/><circle cx="211.9" cy="318.7" r="2.25"/><circle cx="189.7" cy="307.3" r="2.25"/><circle cx="214.7" cy="317.7" r="2.25"/><circle cx="208.3" cy="317.6" r="2.25"/><circle cx="194.8" cy="311.1" r="2.25"/><circle cx="189.7" cy="312.4" r="2.25"/><circle cx="223.0" cy="307.3" r="2.25"/><circle cx="213.1" cy="316.3" r="2.25"/><circle cx="201.3" cy="315.3" r="2.25"/><circle cx="189.1" cy="299.6" r="2.25"/><circle cx="189.4" cy="315.0" r="2.25"/><circle cx="220.4" cy="312.7" r="2.25"/><circle cx="196.5" cy="308.1" r="2.25"/><circle cx="199.5" cy="301.8" r="2.25"/><circle cx="194.2" cy="310.4" r="2.25"/><circle cx="211.2" cy="307.0" r="2.25"/><circle cx="215.0" cy="324.2" r="2.25"/><circle cx="206.7" cy="308.1" r="2.25"/><circle cx="210.3" cy="306.5" r="2.25"/><circle cx="191.9" cy="320.9" r="2.25"/><circle cx="195.7" cy="318.0" r="2.25"/><circle cx="229.1" cy="316.8" r="2.25"/><circle cx="213.1" cy="307.4" r="2.25"/><circle cx="191.6" cy="304.1" r="2.25"/><circle cx="279.7" cy="318.8" r="2.25"/><circle cx="227.4" cy="324.7" r="2.25"/><circle cx="188.5" cy="308.1" r="2.25"/><circle cx="284.0" cy="323.3" r="2.25"/><circle cx="252.2" cy="306.3" r="2.25"/><circle cx="191.1" cy="319.0" r="2.25"/><circle cx="274.1" cy="309.2" r="2.25"/><circle cx="212.2" cy="312.8" r="2.25"/><circle cx="201.1" cy="309.7" r="2.25"/><circle cx="193.7" cy="313.2" r="2.25"/><circle cx="196.8" cy="317.9" r="2.25"/><circle cx="237.0" cy="304.1" r="2.25"/><circle cx="222.3" cy="317.1" r="2.25"/><circle cx="224.6" cy="317.9" r="2.25"/><circle cx="218.2" cy="307.0" r="2.25"/><circle cx="202.5" cy="306.1" r="2.25"/><circle cx="214.2" cy="317.6" r="2.25"/><circle cx="212.8" cy="310.4" r="2.25"/><circle cx="280.4" cy="306.4" r="2.25"/><circle cx="216.4" cy="310.2" r="2.25"/><circle cx="212.8" cy="299.6" r="2.25"/><circle cx="191.4" cy="305.2" r="2.25"/><circle cx="208.9" cy="315.6" r="2.25"/><circle cx="190.4" cy="303.3" r="2.25"/><circle cx="192.5" cy="307.0" r="2.25"/><circle cx="275.3" cy="314.5" r="2.25"/><circle cx="220.2" cy="309.7" r="2.25"/><circle cx="221.4" cy="308.2" r="2.25"/><circle cx="213.3" cy="307.9" r="2.25"/><circle cx="232.0" cy="322.7" r="2.25"/><circle cx="229.1" cy="313.0" r="2.25"/><circle cx="230.9" cy="311.0" r="2.25"/><circle cx="215.1" cy="314.0" r="2.25"/><circle cx="203.5" cy="315.8" r="2.25"/><circle cx="194.2" cy="317.7" r="2.25"/><circle cx="231.1" cy="309.4" r="2.25"/><circle cx="239.0" cy="313.6" r="2.25"/><circle cx="190.7" cy="306.3" r="2.25"/><circle cx="237.3" cy="301.6" r="2.25"/><circle cx="218.0" cy="310.7" r="2.25"/><circle cx="218.8" cy="305.5" r="2.25"/><circle cx="211.6" cy="308.5" r="2.25"/><circle cx="198.3" cy="313.7" r="2.25"/><circle cx="197.8" cy="312.1" r="2.25"/><circle cx="190.6" cy="317.1" r="2.25"/><circle cx="192.9" cy="310.0" r="2.25"/><circle cx="231.7" cy="318.0" r="2.25"/><circle cx="199.5" cy="317.8" r="2.25"/><circle cx="267.0" cy="319.7" r="2.25"/><circle cx="229.2" cy="316.3" r="2.25"/><circle cx="210.5" cy="314.1" r="2.25"/><circle cx="207.9" cy="313.2" r="2.25"/><circle cx="201.0" cy="309.0" r="2.25"/><circle cx="265.0" cy="312.6" r="2.25"/><circle cx="290.6" cy="313.3" r="2.25"/><circle cx="195.2" cy="310.0" r="2.25"/><circle cx="229.5" cy="308.6" r="2.25"/><circle cx="210.7" cy="323.6" r="2.25"/><circle cx="217.9" cy="317.2" r="2.25"/><circle cx="222.8" cy="314.2" r="2.25"/><circle cx="195.5" cy="321.4" r="2.25"/><circle cx="276.2" cy="316.7" r="2.25"/><circle cx="246.9" cy="307.3" r="2.25"/><circle cx="209.5" cy="310.6" r="2.25"/><circle cx="218.2" cy="315.4" r="2.25"/><circle cx="188.6" cy="309.1" r="2.25"/><circle cx="232.6" cy="320.5" r="2.25"/><circle cx="208.1" cy="317.4" r="2.25"/><circle cx="205.7" cy="309.1" r="2.25"/><circle cx="198.2" cy="310.4" r="2.25"/><circle cx="214.7" cy="311.6" r="2.25"/><circle cx="225.8" cy="318.3" r="2.25"/><circle cx="197.6" cy="310.9" r="2.25"/><circle cx="257.8" cy="314.9" r="2.25"/><circle cx="229.5" cy="309.7" r="2.25"/><circle cx="192.5" cy="308.5" r="2.25"/><circle cx="254.2" cy="309.7" r="2.25"/><circle cx="217.1" cy="319.3" r="2.25"/><circle cx="191.2" cy="311.3" r="2.25"/><circle cx="286.9" cy="315.4" r="2.25"/><circle cx="228.3" cy="314.0" r="2.25"/><circle cx="224.1" cy="319.9" r="2.25"/><circle cx="232.8" cy="323.8" r="2.25"/><circle cx="229.3" cy="316.2" r="2.25"/><circle cx="231.0" cy="322.3" r="2.25"/><circle cx="192.3" cy="311.3" r="2.25"/><circle cx="190.9" cy="318.3" r="2.25"/><circle cx="211.2" cy="310.1" r="2.25"/><circle cx="245.5" cy="313.5" r="2.25"/><circle cx="295.1" cy="312.0" r="2.25"/><circle cx="227.4" cy="310.3" r="2.25"/><circle cx="265.0" cy="316.1" r="2.25"/><circle cx="238.3" cy="310.3" r="2.25"/><circle cx="190.6" cy="306.4" r="2.25"/><circle cx="190.8" cy="305.9" r="2.25"/><circle cx="190.9" cy="312.1" r="2.25"/><circle cx="235.8" cy="314.6" r="2.25"/><circle cx="231.0" cy="304.1" r="2.25"/><circle cx="235.5" cy="314.1" r="2.25"/><circle cx="201.4" cy="317.1" r="2.25"/><circle cx="250.0" cy="307.0" r="2.25"/><circle cx="189.9" cy="319.9" r="2.25"/><circle cx="195.1" cy="307.7" r="2.25"/><circle cx="229.0" cy="309.0" r="2.25"/><circle cx="241.8" cy="304.1" r="2.25"/><circle cx="201.7" cy="304.9" r="2.25"/><circle cx="193.4" cy="316.6" r="2.25"/><circle cx="237.9" cy="312.2" r="2.25"/><circle cx="223.5" cy="316.7" r="2.25"/><circle cx="272.1" cy="313.6" r="2.25"/><circle cx="216.8" cy="315.6" r="2.25"/><circle cx="215.6" cy="312.1" r="2.25"/><circle cx="238.9" cy="315.2" r="2.25"/><circle cx="200.3" cy="319.2" r="2.25"/><circle cx="199.1" cy="311.3" r="2.25"/><circle cx="232.1" cy="313.8" r="2.25"/><circle cx="188.9" cy="300.2" r="2.25"/><circle cx="216.2" cy="312.7" r="2.25"/><circle cx="200.6" cy="307.1" r="2.25"/><circle cx="200.5" cy="313.6" r="2.25"/><circle cx="190.0" cy="306.7" r="2.25"/><circle cx="226.3" cy="309.6" r="2.25"/><circle cx="228.9" cy="308.2" r="2.25"/><circle cx="201.1" cy="303.1" r="2.25"/><circle cx="188.3" cy="315.4" r="2.25"/><circle cx="224.1" cy="313.6" r="2.25"/><circle cx="194.8" cy="318.7" r="2.25"/><circle cx="234.0" cy="297.6" r="2.25"/><circle cx="249.2" cy="295.8" r="2.25"/><circle cx="235.2" cy="299.8" r="2.25"/><circle cx="247.2" cy="298.7" r="2.25"/><circle cx="214.3" cy="295.0" r="2.25"/><circle cx="215.6" cy="296.7" r="2.25"/><circle cx="228.2" cy="292.2" r="2.25"/><circle cx="214.0" cy="295.1" r="2.25"/><circle cx="211.4" cy="295.9" r="2.25"/><circle cx="212.2" cy="298.6" r="2.25"/><circle cx="211.9" cy="299.7" r="2.25"/><circle cx="215.1" cy="298.2" r="2.25"/><circle cx="211.8" cy="296.0" r="2.25"/><circle cx="215.1" cy="296.7" r="2.25"/><circle cx="206.2" cy="289.7" r="2.25"/><circle cx="278.3" cy="294.3" r="2.25"/><circle cx="255.0" cy="298.4" r="2.25"/><circle cx="212.5" cy="291.4" r="2.25"/><circle cx="278.6" cy="299.0" r="2.25"/><circle cx="212.6" cy="299.9" r="2.25"/><circle cx="287.7" cy="297.3" r="2.25"/><circle cx="206.3" cy="293.7" r="2.25"/><circle cx="237.4" cy="300.0" r="2.25"/><circle cx="238.3" cy="298.8" r="2.25"/><circle cx="225.8" cy="296.2" r="2.25"/><circle cx="229.0" cy="295.9" r="2.25"/><circle cx="206.9" cy="299.6" r="2.25"/><circle cx="286.6" cy="298.4" r="2.25"/><circle cx="232.1" cy="296.7" r="2.25"/><circle cx="217.7" cy="289.5" r="2.25"/><circle cx="239.7" cy="298.3" r="2.25"/><circle cx="210.4" cy="298.5" r="2.25"/><circle cx="224.0" cy="298.9" r="2.25"/><circle cx="206.2" cy="299.5" r="2.25"/><circle cx="211.1" cy="294.4" r="2.25"/><circle cx="222.5" cy="299.4" r="2.25"/><circle cx="212.2" cy="296.5" r="2.25"/><circle cx="214.9" cy="296.9" r="2.25"/><circle cx="223.1" cy="294.0" r="2.25"/><circle cx="228.9" cy="298.4" r="2.25"/><circle cx="233.1" cy="299.7" r="2.25"/><circle cx="221.1" cy="298.8" r="2.25"/><circle cx="232.5" cy="298.1" r="2.25"/><circle cx="212.9" cy="296.3" r="2.25"/><circle cx="222.3" cy="297.4" r="2.25"/><circle cx="227.1" cy="288.8" r="2.25"/><circle cx="223.1" cy="294.0" r="2.25"/><circle cx="281.3" cy="290.6" r="2.25"/><circle cx="223.2" cy="295.8" r="2.25"/><circle cx="248.1" cy="298.5" r="2.25"/><circle cx="280.7" cy="299.7" r="2.25"/><circle cx="217.7" cy="295.3" r="2.25"/><circle cx="234.5" cy="299.4" r="2.25"/><circle cx="242.6" cy="295.6" r="2.25"/><circle cx="220.6" cy="297.1" r="2.25"/><circle cx="210.0" cy="299.8" r="2.25"/><circle cx="231.1" cy="292.0" r="2.25"/><circle cx="225.6" cy="299.8" r="2.25"/><circle cx="271.5" cy="296.5" r="2.25"/><circle cx="206.8" cy="298.8" r="2.25"/><circle cx="246.4" cy="292.5" r="2.25"/><circle cx="228.9" cy="289.2" r="2.25"/><circle cx="244.8" cy="298.3" r="2.25"/><circle cx="231.0" cy="295.0" r="2.25"/><circle cx="212.4" cy="295.5" r="2.25"/><circle cx="208.9" cy="298.3" r="2.25"/><circle cx="217.0" cy="299.1" r="2.25"/><circle cx="225.1" cy="299.5" r="2.25"/><circle cx="211.1" cy="295.1" r="2.25"/><circle cx="271.1" cy="299.9" r="2.25"/><circle cx="219.4" cy="297.6" r="2.25"/><circle cx="206.6" cy="298.9" r="2.25"/><circle cx="265.6" cy="299.3" r="2.25"/><circle cx="292.6" cy="295.4" r="2.25"/><circle cx="211.4" cy="290.9" r="2.25"/><circle cx="211.7" cy="299.7" r="2.25"/><circle cx="247.2" cy="290.2" r="2.25"/><circle cx="210.4" cy="299.5" r="2.25"/><circle cx="240.7" cy="298.1" r="2.25"/><circle cx="220.9" cy="297.6" r="2.25"/><circle cx="218.0" cy="297.4" r="2.25"/><circle cx="211.0" cy="299.6" r="2.25"/><circle cx="279.8" cy="300.0" r="2.25"/><circle cx="234.0" cy="290.9" r="2.25"/><circle cx="241.1" cy="298.2" r="2.25"/><circle cx="218.7" cy="295.0" r="2.25"/><circle cx="227.4" cy="297.4" r="2.25"/><circle cx="213.5" cy="288.2" r="2.25"/><circle cx="242.1" cy="297.9" r="2.25"/><circle cx="212.8" cy="296.4" r="2.25"/><circle cx="253.3" cy="297.6" r="2.25"/><circle cx="283.6" cy="298.8" r="2.25"/><circle cx="230.2" cy="299.6" r="2.25"/><circle cx="217.9" cy="299.5" r="2.25"/><circle cx="214.5" cy="298.9" r="2.25"/><circle cx="298.9" cy="311.8" r="2.25"/><circle cx="333.4" cy="300.8" r="2.25"/><circle cx="299.2" cy="307.0" r="2.25"/><circle cx="322.9" cy="310.2" r="2.25"/><circle cx="311.0" cy="305.7" r="2.25"/><circle cx="312.7" cy="314.2" r="2.25"/></g>
<line class="gr" x1="166.8" y1="15" x2="166.8" y2="502"/><line class="gr" x1="365.6" y1="15" x2="365.6" y2="502"/><line class="gr" x1="564.3" y1="15" x2="564.3" y2="502"/><line class="gr" x1="147" y1="65.7" x2="581" y2="65.7"/><line class="gr" x1="147" y1="143.8" x2="581" y2="143.8"/><line class="gr" x1="147" y1="221.9" x2="581" y2="221.9"/><line class="gr" x1="147" y1="300.0" x2="581" y2="300.0"/><line class="gr" x1="147" y1="378.1" x2="581" y2="378.1"/><line class="gr" x1="147" y1="456.2" x2="581" y2="456.2"/></g>
<line class="tk" x1="166.8" y1="502" x2="166.8" y2="510.3"/><text class="t" x="166.8" y="541.6" text-anchor="middle">0</text>
<line class="tk" x1="365.6" y1="502" x2="365.6" y2="510.3"/><text class="t" x="365.6" y="541.6" text-anchor="middle">5</text>
<line class="tk" x1="564.3" y1="502" x2="564.3" y2="510.3"/><text class="t" x="564.3" y="541.6" text-anchor="middle">10</text>
<line class="tk" x1="138.7" y1="65.7" x2="147" y2="65.7"/><text class="t" x="131.7" y="79.0" text-anchor="end">7.5</text>
<line class="tk" x1="138.7" y1="143.8" x2="147" y2="143.8"/><text class="t" x="131.7" y="157.1" text-anchor="end">5.0</text>
<line class="tk" x1="138.7" y1="221.9" x2="147" y2="221.9"/><text class="t" x="131.7" y="235.2" text-anchor="end">2.5</text>
<line class="tk" x1="138.7" y1="300.0" x2="147" y2="300.0"/><text class="t" x="131.7" y="313.3" text-anchor="end">0.0</text>
<line class="tk" x1="138.7" y1="378.1" x2="147" y2="378.1"/><text class="t" x="131.7" y="391.4" text-anchor="end">−2.5</text>
<line class="tk" x1="138.7" y1="456.2" x2="147" y2="456.2"/><text class="t" x="131.7" y="469.5" text-anchor="end">−5.0</text>
<rect x="210" y="394" width="356.6" height="93.1" rx="4.4" fill="#fff" fill-opacity="0.8" stroke="#cccccc" stroke-width="2.2"/>
<circle class="k" cx="229.4" cy="420.5" r="2.25"/><circle class="g" cx="229.4" cy="462.4" r="2.25"/>
<text class="lg" x="246.0" y="427.9">highly variable genes</text>
<text class="lg" x="246.0" y="470.6">other genes</text>
<rect class="sp" x="147" y="15" width="434" height="487"/>
<text class="t" x="363.6" y="582" text-anchor="middle">mean expressions of genes</text>
<clipPath id="c1"><rect x="711" y="15" width="434" height="487"/></clipPath>
<g clip-path="url(#c1)">
<g class="k"><path d="M733.5,309 L734.5,309 L741,318.5 L748.3,328.5 L756.7,337.5 L766.7,347.5 L773,360.5 L749.3,360.5 L749.3,372.7 L733.5,372.7 Z"/><circle cx="847.6" cy="175.4" r="2.25"/><circle cx="821.4" cy="189.3" r="2.25"/><circle cx="830.5" cy="189.3" r="2.25"/><circle cx="842.6" cy="199.2" r="2.25"/><circle cx="838.5" cy="202.2" r="2.25"/><circle cx="811.4" cy="206.6" r="2.25"/><circle cx="830.5" cy="212.6" r="2.25"/><circle cx="843.6" cy="211.2" r="2.25"/><circle cx="797.5" cy="213.6" r="2.25"/><circle cx="837.5" cy="221.5" r="2.25"/><circle cx="813.4" cy="223.5" r="2.25"/><circle cx="825.5" cy="224.5" r="2.25"/><circle cx="782.4" cy="225.5" r="2.25"/><circle cx="769.5" cy="228.5" r="2.25"/><circle cx="763.3" cy="233.4" r="2.25"/><circle cx="768.5" cy="232.4" r="2.25"/><circle cx="780.4" cy="237.4" r="2.25"/><circle cx="773.4" cy="238.4" r="2.25"/><circle cx="756.4" cy="242.4" r="2.25"/><circle cx="757.3" cy="244.0" r="2.25"/><circle cx="761.7" cy="243.4" r="2.25"/><circle cx="772.1" cy="242.4" r="2.25"/><circle cx="749.4" cy="247.4" r="2.25"/><circle cx="762.3" cy="248.3" r="2.25"/><circle cx="769.5" cy="248.3" r="2.25"/><circle cx="775.4" cy="250.3" r="2.25"/><circle cx="791.5" cy="251.3" r="2.25"/><circle cx="830.5" cy="248.3" r="2.25"/><circle cx="755.8" cy="251.3" r="2.25"/><circle cx="753.8" cy="253.3" r="2.25"/><circle cx="749.4" cy="256.3" r="2.25"/><circle cx="765.7" cy="255.3" r="2.25"/><circle cx="762.7" cy="258.3" r="2.25"/><circle cx="767.7" cy="258.3" r="2.25"/><circle cx="747.8" cy="260.0" r="2.25"/><circle cx="783.1" cy="286.4" r="2.25"/><circle cx="787.6" cy="283.4" r="2.25"/><circle cx="738.4" cy="273.5" r="2.25"/><circle cx="742.9" cy="271.5" r="2.25"/><circle cx="746.4" cy="274.0" r="2.25"/><circle cx="748.3" cy="271.5" r="2.25"/><circle cx="741.4" cy="276.5" r="2.25"/><circle cx="740.4" cy="278.9" r="2.25"/><circle cx="747.3" cy="278.4" r="2.25"/><circle cx="750.8" cy="274.5" r="2.25"/><circle cx="753.8" cy="274.5" r="2.25"/><circle cx="754.8" cy="277.5" r="2.25"/><circle cx="757.3" cy="277.5" r="2.25"/><circle cx="758.3" cy="281.4" r="2.25"/><circle cx="763.3" cy="272.5" r="2.25"/><circle cx="764.2" cy="275.5" r="2.25"/><circle cx="745.4" cy="282.9" r="2.25"/><circle cx="744.4" cy="286.4" r="2.25"/><circle cx="750.8" cy="284.4" r="2.25"/><circle cx="753.3" cy="285.9" r="2.25"/><circle cx="750.8" cy="288.4" r="2.25"/><circle cx="754.3" cy="288.9" r="2.25"/><circle cx="737.4" cy="287.4" r="2.25"/><circle cx="772.2" cy="285.4" r="2.25"/><circle cx="780.6" cy="286.4" r="2.25"/><circle cx="741.4" cy="291.4" r="2.25"/><circle cx="737.9" cy="292.4" r="2.25"/><circle cx="736.9" cy="294.4" r="2.25"/><circle cx="739.4" cy="296.3" r="2.25"/><circle cx="750.3" cy="292.4" r="2.25"/><circle cx="749.3" cy="295.3" r="2.25"/><circle cx="757.3" cy="293.4" r="2.25"/><circle cx="760.3" cy="292.4" r="2.25"/><circle cx="757.8" cy="296.8" r="2.25"/><circle cx="744.4" cy="299.5" r="2.25"/><circle cx="735.4" cy="298.8" r="2.25"/><circle cx="776.2" cy="299.0" r="2.25"/><circle cx="755.3" cy="303.6" r="2.25"/><circle cx="765.2" cy="303.6" r="2.25"/><circle cx="734.9" cy="305.8" r="2.25"/><circle cx="738.4" cy="304.8" r="2.25"/><circle cx="739.9" cy="307.8" r="2.25"/><circle cx="743.9" cy="307.6" r="2.25"/><circle cx="745.4" cy="310.8" r="2.25"/><circle cx="743.4" cy="311.3" r="2.25"/><circle cx="764.2" cy="310.3" r="2.25"/><circle cx="769.2" cy="308.3" r="2.25"/><circle cx="766.2" cy="313.2" r="2.25"/><circle cx="775.2" cy="310.3" r="2.25"/><circle cx="787.1" cy="311.3" r="2.25"/><circle cx="794.1" cy="313.2" r="2.25"/><circle cx="796.1" cy="315.2" r="2.25"/><circle cx="748.3" cy="314.2" r="2.25"/><circle cx="744.4" cy="315.7" r="2.25"/><circle cx="750.3" cy="318.7" r="2.25"/><circle cx="749.3" cy="320.7" r="2.25"/><circle cx="762.3" cy="319.2" r="2.25"/><circle cx="776.2" cy="318.7" r="2.25"/><circle cx="778.2" cy="320.7" r="2.25"/><circle cx="782.1" cy="316.2" r="2.25"/><circle cx="783.1" cy="319.2" r="2.25"/><circle cx="789.6" cy="317.2" r="2.25"/><circle cx="757.3" cy="322.2" r="2.25"/><circle cx="758.3" cy="326.7" r="2.25"/><circle cx="781.6" cy="328.6" r="2.25"/><circle cx="786.6" cy="329.6" r="2.25"/><circle cx="800.5" cy="327.2" r="2.25"/><circle cx="807.1" cy="324.4" r="2.25"/><circle cx="799.6" cy="332.2" r="2.25"/><circle cx="809.4" cy="334.5" r="2.25"/><circle cx="776.4" cy="335.7" r="2.25"/><circle cx="791.4" cy="336.2" r="2.25"/><circle cx="799.6" cy="336.2" r="2.25"/><circle cx="795.5" cy="339.1" r="2.25"/><circle cx="781.0" cy="340.3" r="2.25"/><circle cx="801.3" cy="342.0" r="2.25"/><circle cx="790.9" cy="343.8" r="2.25"/><circle cx="797.2" cy="344.9" r="2.25"/><circle cx="777.0" cy="344.9" r="2.25"/><circle cx="781.6" cy="346.1" r="2.25"/><circle cx="790.3" cy="347.2" r="2.25"/><circle cx="771.2" cy="350.7" r="2.25"/><circle cx="779.3" cy="351.3" r="2.25"/><circle cx="786.2" cy="350.7" r="2.25"/><circle cx="787.4" cy="352.5" r="2.25"/><circle cx="775.4" cy="262.5" r="2.25"/><circle cx="744.4" cy="267.5" r="2.25"/><circle cx="748.8" cy="269.5" r="2.25"/><circle cx="786.6" cy="268.5" r="2.25"/><circle cx="791.5" cy="268.5" r="2.25"/><circle cx="811.4" cy="271.3" r="2.25"/><circle cx="813.4" cy="304.3" r="2.25"/><circle cx="811.4" cy="308.3" r="2.25"/><circle cx="821.4" cy="310.2" r="2.25"/><circle cx="821.4" cy="312.6" r="2.25"/><circle cx="829.5" cy="310.2" r="2.25"/><circle cx="806.5" cy="313.6" r="2.25"/><circle cx="802.5" cy="326.5" r="2.25"/><circle cx="783.6" cy="330.5" r="2.25"/><circle cx="766.7" cy="333.5" r="2.25"/><circle cx="767.7" cy="336.5" r="2.25"/><circle cx="734.5" cy="307.5" r="2.25"/><circle cx="753.7" cy="334.9" r="2.25"/><circle cx="737.6" cy="308.6" r="2.25"/><circle cx="774.8" cy="355.0" r="2.25"/><circle cx="744.6" cy="321.4" r="2.25"/><circle cx="758.0" cy="338.4" r="2.25"/><circle cx="736.2" cy="308.0" r="2.25"/><circle cx="759.8" cy="338.9" r="2.25"/><circle cx="768.4" cy="347.4" r="2.25"/><circle cx="773.6" cy="356.9" r="2.25"/><circle cx="754.3" cy="332.1" r="2.25"/><circle cx="744.5" cy="320.5" r="2.25"/><circle cx="741.0" cy="313.6" r="2.25"/><circle cx="768.6" cy="350.3" r="2.25"/><circle cx="748.6" cy="327.1" r="2.25"/><circle cx="736.9" cy="304.8" r="2.25"/><circle cx="745.7" cy="324.9" r="2.25"/><circle cx="758.1" cy="339.1" r="2.25"/><circle cx="770.5" cy="352.3" r="2.25"/><circle cx="743.5" cy="320.1" r="2.25"/><circle cx="773.6" cy="352.6" r="2.25"/><circle cx="740.5" cy="319.7" r="2.25"/><circle cx="738.6" cy="309.3" r="2.25"/><circle cx="750.7" cy="326.7" r="2.25"/><circle cx="770.4" cy="349.1" r="2.25"/><circle cx="741.0" cy="317.9" r="2.25"/><circle cx="736.5" cy="301.4" r="2.25"/><circle cx="747.7" cy="327.0" r="2.25"/><circle cx="761.8" cy="342.9" r="2.25"/><circle cx="735.1" cy="303.6" r="2.25"/><circle cx="769.1" cy="352.0" r="2.25"/><circle cx="765.6" cy="346.7" r="2.25"/><circle cx="742.9" cy="317.0" r="2.25"/><circle cx="753.5" cy="328.6" r="2.25"/><circle cx="737.3" cy="312.6" r="2.25"/><circle cx="743.0" cy="315.0" r="2.25"/><circle cx="772.8" cy="354.6" r="2.25"/><circle cx="747.1" cy="325.3" r="2.25"/><circle cx="761.3" cy="343.3" r="2.25"/><circle cx="741.6" cy="314.2" r="2.25"/><circle cx="764.0" cy="343.0" r="2.25"/><circle cx="760.5" cy="338.4" r="2.25"/><circle cx="768.6" cy="345.3" r="2.25"/><circle cx="735.9" cy="308.7" r="2.25"/><circle cx="734.4" cy="308.3" r="2.25"/><circle cx="768.7" cy="345.6" r="2.25"/><circle cx="762.0" cy="344.0" r="2.25"/><circle cx="742.2" cy="320.8" r="2.25"/><circle cx="774.0" cy="357.9" r="2.25"/><circle cx="738.7" cy="314.2" r="2.25"/><circle cx="736.7" cy="303.5" r="2.25"/><circle cx="756.1" cy="336.9" r="2.25"/><circle cx="749.2" cy="328.9" r="2.25"/><circle cx="755.4" cy="335.4" r="2.25"/><circle cx="755.3" cy="332.2" r="2.25"/><circle cx="743.6" cy="318.8" r="2.25"/><circle cx="741.7" cy="320.4" r="2.25"/><circle cx="741.8" cy="318.3" r="2.25"/><circle cx="770.3" cy="352.9" r="2.25"/><circle cx="734.9" cy="305.0" r="2.25"/><circle cx="777.1" cy="355.9" r="2.25"/><circle cx="758.7" cy="340.6" r="2.25"/><circle cx="768.6" cy="346.8" r="2.25"/><circle cx="734.6" cy="308.3" r="2.25"/><circle cx="736.3" cy="302.9" r="2.25"/><circle cx="764.2" cy="341.7" r="2.25"/><circle cx="763.5" cy="344.1" r="2.25"/><circle cx="765.1" cy="345.8" r="2.25"/><circle cx="750.4" cy="328.9" r="2.25"/><circle cx="757.4" cy="335.1" r="2.25"/><circle cx="735.2" cy="296.2" r="2.25"/><circle cx="748.7" cy="299.0" r="2.25"/><circle cx="742.8" cy="287.6" r="2.25"/><circle cx="735.4" cy="285.8" r="2.25"/><circle cx="735.5" cy="306.2" r="2.25"/><circle cx="738.8" cy="305.4" r="2.25"/><circle cx="742.2" cy="295.4" r="2.25"/><circle cx="736.5" cy="303.6" r="2.25"/><circle cx="738.1" cy="306.1" r="2.25"/><circle cx="740.5" cy="307.0" r="2.25"/><circle cx="736.0" cy="295.0" r="2.25"/><circle cx="746.9" cy="297.3" r="2.25"/><circle cx="736.0" cy="296.2" r="2.25"/><circle cx="734.6" cy="308.3" r="2.25"/><circle cx="762.0" cy="327.2" r="2.25"/><circle cx="779.8" cy="356.2" r="2.25"/><circle cx="790.8" cy="356.7" r="2.25"/><circle cx="766.5" cy="328.8" r="2.25"/><circle cx="767.2" cy="331.6" r="2.25"/><circle cx="768.8" cy="342.3" r="2.25"/><circle cx="775.5" cy="333.2" r="2.25"/><circle cx="779.6" cy="349.5" r="2.25"/><circle cx="771.2" cy="338.0" r="2.25"/><circle cx="779.7" cy="356.1" r="2.25"/><circle cx="760.2" cy="330.1" r="2.25"/><circle cx="767.1" cy="341.2" r="2.25"/><circle cx="756.6" cy="326.7" r="2.25"/><circle cx="777.0" cy="337.4" r="2.25"/><circle cx="769.8" cy="344.5" r="2.25"/><circle cx="756.2" cy="326.4" r="2.25"/><circle cx="785.0" cy="353.0" r="2.25"/><circle cx="768.0" cy="336.7" r="2.25"/><circle cx="780.5" cy="354.7" r="2.25"/><circle cx="779.2" cy="348.9" r="2.25"/><circle cx="768.8" cy="329.9" r="2.25"/><circle cx="760.9" cy="327.8" r="2.25"/><circle cx="780.2" cy="350.9" r="2.25"/><circle cx="766.2" cy="339.3" r="2.25"/><circle cx="783.7" cy="353.9" r="2.25"/><circle cx="795.0" cy="356.0" r="2.25"/><circle cx="772.6" cy="346.5" r="2.25"/><circle cx="767.4" cy="330.9" r="2.25"/><circle cx="775.3" cy="348.1" r="2.25"/><circle cx="777.2" cy="347.1" r="2.25"/><circle cx="767.4" cy="339.4" r="2.25"/><circle cx="766.4" cy="340.6" r="2.25"/><circle cx="787.2" cy="355.0" r="2.25"/><circle cx="763.6" cy="335.6" r="2.25"/><circle cx="774.1" cy="344.0" r="2.25"/><circle cx="756.5" cy="329.1" r="2.25"/><circle cx="776.2" cy="337.5" r="2.25"/><circle cx="773.8" cy="341.6" r="2.25"/><circle cx="783.7" cy="354.2" r="2.25"/><circle cx="782.0" cy="350.6" r="2.25"/></g>
<g class="g"><rect x="729.1" y="352" width="5.0" height="104"/><path d="M731,370.7 L749.3,370.7 L749.3,358.5 L778,358.5 L790,360 L805,362 L818,366 L820,372 L805,375.5 L790,377 L775,377.5 L760,379 L745,381.3 L738.5,384 L736,388 L735,396 L731,396 Z"/><circle cx="840.7" cy="325.2" r="2.25"/><circle cx="811.2" cy="329.3" r="2.25"/><circle cx="819.3" cy="331.4" r="2.25"/><circle cx="823.6" cy="330.4" r="2.25"/><circle cx="822.4" cy="335.1" r="2.25"/><circle cx="832.6" cy="336.2" r="2.25"/><circle cx="817.5" cy="339.1" r="2.25"/><circle cx="818.1" cy="341.4" r="2.25"/><circle cx="821.6" cy="343.8" r="2.25"/><circle cx="827.4" cy="339.1" r="2.25"/><circle cx="830.3" cy="341.4" r="2.25"/><circle cx="833.5" cy="344.9" r="2.25"/><circle cx="827.4" cy="347.2" r="2.25"/><circle cx="810.3" cy="348.4" r="2.25"/><circle cx="800.7" cy="350.4" r="2.25"/><circle cx="803.6" cy="350.4" r="2.25"/><circle cx="820.4" cy="350.4" r="2.25"/><circle cx="818.1" cy="353.0" r="2.25"/><circle cx="814.6" cy="354.8" r="2.25"/><circle cx="806.2" cy="354.8" r="2.25"/><circle cx="826.8" cy="352.2" r="2.25"/><circle cx="829.1" cy="352.2" r="2.25"/><circle cx="837.2" cy="350.7" r="2.25"/><circle cx="839.6" cy="347.8" r="2.25"/><circle cx="844.2" cy="350.4" r="2.25"/><circle cx="846.5" cy="347.2" r="2.25"/><circle cx="834.9" cy="356.5" r="2.25"/><circle cx="829.4" cy="359.4" r="2.25"/><circle cx="821.0" cy="360.6" r="2.25"/><circle cx="826.2" cy="364.1" r="2.25"/><circle cx="825.7" cy="367.0" r="2.25"/><circle cx="831.4" cy="365.8" r="2.25"/><circle cx="833.8" cy="367.0" r="2.25"/><circle cx="830.3" cy="370.4" r="2.25"/><circle cx="833.2" cy="372.8" r="2.25"/><circle cx="823.3" cy="372.8" r="2.25"/><circle cx="838.4" cy="359.4" r="2.25"/><circle cx="840.7" cy="357.1" r="2.25"/><circle cx="844.2" cy="358.3" r="2.25"/><circle cx="840.7" cy="363.5" r="2.25"/><circle cx="844.2" cy="364.6" r="2.25"/><circle cx="847.1" cy="360.0" r="2.25"/><circle cx="848.8" cy="357.1" r="2.25"/><circle cx="843.6" cy="367.5" r="2.25"/><circle cx="848.8" cy="342.0" r="2.25"/><circle cx="1126.2" cy="37.1" r="2.25"/><circle cx="1094.4" cy="53.4" r="2.25"/><circle cx="1067.3" cy="65.3" r="2.25"/><circle cx="989.4" cy="143.6" r="2.25"/><circle cx="893.3" cy="150.4" r="2.25"/><circle cx="858.4" cy="168.4" r="2.25"/><circle cx="853.6" cy="191.3" r="2.25"/><circle cx="948.1" cy="193.3" r="2.25"/><circle cx="942.5" cy="206.4" r="2.25"/><circle cx="887.3" cy="213.2" r="2.25"/><circle cx="850.5" cy="248.2" r="2.25"/><circle cx="891.3" cy="260.0" r="2.25"/><circle cx="862.5" cy="296.3" r="2.25"/><circle cx="847.6" cy="316.6" r="2.25"/><circle cx="856.6" cy="321.2" r="2.25"/><circle cx="860.5" cy="327.1" r="2.25"/><circle cx="867.5" cy="332.1" r="2.25"/><circle cx="858.1" cy="337.1" r="2.25"/><circle cx="852.6" cy="342.4" r="2.25"/><circle cx="874.0" cy="336.5" r="2.25"/><circle cx="900.5" cy="304.4" r="2.25"/><circle cx="932.7" cy="322.5" r="2.25"/><circle cx="896.5" cy="328.4" r="2.25"/><circle cx="902.5" cy="329.4" r="2.25"/><circle cx="909.5" cy="330.4" r="2.25"/><circle cx="906.5" cy="333.4" r="2.25"/><circle cx="912.4" cy="334.4" r="2.25"/><circle cx="898.5" cy="334.2" r="2.25"/><circle cx="887.6" cy="334.4" r="2.25"/><circle cx="903.5" cy="341.4" r="2.25"/><circle cx="901.5" cy="341.4" r="2.25"/><circle cx="888.6" cy="341.4" r="2.25"/><circle cx="890.6" cy="342.3" r="2.25"/><circle cx="883.6" cy="340.4" r="2.25"/><circle cx="893.6" cy="345.3" r="2.25"/><circle cx="898.1" cy="347.3" r="2.25"/><circle cx="879.6" cy="342.3" r="2.25"/><circle cx="877.7" cy="343.3" r="2.25"/><circle cx="885.6" cy="346.3" r="2.25"/><circle cx="880.6" cy="347.7" r="2.25"/><circle cx="883.6" cy="350.7" r="2.25"/><circle cx="871.7" cy="345.3" r="2.25"/><circle cx="872.7" cy="347.7" r="2.25"/><circle cx="875.7" cy="351.7" r="2.25"/><circle cx="870.7" cy="350.7" r="2.25"/><circle cx="867.7" cy="353.3" r="2.25"/><circle cx="864.7" cy="351.3" r="2.25"/><circle cx="869.7" cy="355.7" r="2.25"/><circle cx="866.7" cy="357.7" r="2.25"/><circle cx="871.7" cy="359.6" r="2.25"/><circle cx="878.4" cy="358.3" r="2.25"/><circle cx="862.7" cy="360.2" r="2.25"/><circle cx="865.3" cy="362.2" r="2.25"/><circle cx="874.7" cy="354.7" r="2.25"/><circle cx="859.8" cy="353.3" r="2.25"/><circle cx="853.8" cy="351.7" r="2.25"/><circle cx="855.4" cy="349.3" r="2.25"/><circle cx="857.4" cy="346.3" r="2.25"/><circle cx="850.4" cy="348.7" r="2.25"/><circle cx="846.8" cy="357.7" r="2.25"/><circle cx="845.8" cy="362.6" r="2.25"/><circle cx="848.8" cy="363.6" r="2.25"/><circle cx="851.4" cy="362.6" r="2.25"/><circle cx="853.4" cy="357.7" r="2.25"/><circle cx="855.4" cy="366.6" r="2.25"/><circle cx="857.4" cy="369.2" r="2.25"/><circle cx="820.0" cy="369.6" r="2.25"/><circle cx="841.9" cy="360.6" r="2.25"/><circle cx="738.8" cy="397.5" r="2.25"/><circle cx="741.5" cy="400.5" r="2.25"/><circle cx="736.5" cy="399.0" r="2.25"/><circle cx="735.5" cy="402.0" r="2.25"/><circle cx="731.6" cy="455.0" r="2.25"/><circle cx="731.6" cy="457.4" r="2.25"/><circle cx="731.6" cy="459.8" r="2.25"/><circle cx="731.6" cy="462.2" r="2.25"/><circle cx="731.6" cy="464.6" r="2.25"/><circle cx="731.6" cy="467.0" r="2.25"/><circle cx="731.6" cy="469.4" r="2.25"/><circle cx="731.6" cy="471.8" r="2.25"/><circle cx="731.6" cy="474.2" r="2.25"/><circle cx="731.6" cy="476.6" r="2.25"/><circle cx="731.6" cy="479.0" r="2.25"/><circle cx="731.6" cy="481.4" r="2.25"/><circle cx="868.7" cy="349.7" r="2.25"/><circle cx="870.7" cy="353.7" r="2.25"/><circle cx="867.7" cy="356.7" r="2.25"/><circle cx="872.7" cy="356.7" r="2.25"/><circle cx="865.7" cy="354.7" r="2.25"/><circle cx="869.3" cy="352.1" r="2.25"/><circle cx="873.7" cy="350.7" r="2.25"/><circle cx="872.1" cy="347.3" r="2.25"/><circle cx="876.7" cy="345.3" r="2.25"/><circle cx="878.6" cy="344.1" r="2.25"/><circle cx="881.6" cy="342.7" r="2.25"/><circle cx="883.6" cy="344.7" r="2.25"/><circle cx="886.6" cy="343.7" r="2.25"/><circle cx="888.6" cy="342.7" r="2.25"/><circle cx="879.6" cy="346.1" r="2.25"/><circle cx="882.6" cy="347.3" r="2.25"/><circle cx="838.9" cy="357.7" r="2.25"/><circle cx="841.9" cy="359.2" r="2.25"/><circle cx="844.9" cy="360.6" r="2.25"/><circle cx="840.9" cy="361.6" r="2.25"/><circle cx="843.5" cy="363.2" r="2.25"/><circle cx="846.2" cy="359.6" r="2.25"/><circle cx="797.3" cy="368.9" r="2.25"/><circle cx="770.3" cy="361.8" r="2.25"/><circle cx="781.8" cy="378.4" r="2.25"/><circle cx="794.1" cy="358.3" r="2.25"/><circle cx="792.4" cy="370.7" r="2.25"/><circle cx="804.9" cy="376.2" r="2.25"/><circle cx="801.2" cy="350.0" r="2.25"/><circle cx="791.3" cy="356.3" r="2.25"/><circle cx="769.0" cy="379.7" r="2.25"/><circle cx="801.5" cy="376.0" r="2.25"/><circle cx="775.2" cy="373.2" r="2.25"/><circle cx="786.9" cy="365.6" r="2.25"/><circle cx="817.7" cy="372.0" r="2.25"/><circle cx="800.4" cy="368.8" r="2.25"/><circle cx="785.8" cy="371.1" r="2.25"/><circle cx="770.8" cy="369.2" r="2.25"/><circle cx="803.0" cy="345.0" r="2.25"/><circle cx="787.9" cy="362.2" r="2.25"/><circle cx="792.8" cy="374.3" r="2.25"/><circle cx="819.4" cy="374.7" r="2.25"/><circle cx="779.1" cy="371.6" r="2.25"/><circle cx="806.5" cy="363.4" r="2.25"/><circle cx="810.6" cy="355.8" r="2.25"/><circle cx="770.7" cy="376.5" r="2.25"/><circle cx="808.4" cy="366.8" r="2.25"/><circle cx="784.5" cy="356.6" r="2.25"/><circle cx="783.4" cy="378.2" r="2.25"/><circle cx="781.8" cy="378.4" r="2.25"/><circle cx="813.4" cy="340.6" r="2.25"/><circle cx="779.9" cy="374.1" r="2.25"/><circle cx="800.8" cy="368.9" r="2.25"/><circle cx="773.8" cy="373.0" r="2.25"/><circle cx="769.4" cy="377.1" r="2.25"/><circle cx="818.9" cy="369.5" r="2.25"/><circle cx="784.6" cy="371.6" r="2.25"/><circle cx="802.4" cy="373.9" r="2.25"/><circle cx="791.6" cy="376.1" r="2.25"/><circle cx="800.3" cy="368.8" r="2.25"/><circle cx="787.2" cy="365.1" r="2.25"/><circle cx="795.0" cy="348.7" r="2.25"/><circle cx="815.4" cy="366.8" r="2.25"/><circle cx="819.9" cy="347.6" r="2.25"/><circle cx="773.2" cy="371.6" r="2.25"/><circle cx="796.9" cy="350.8" r="2.25"/><circle cx="776.5" cy="366.1" r="2.25"/><circle cx="803.2" cy="350.8" r="2.25"/><circle cx="778.4" cy="368.5" r="2.25"/><circle cx="786.1" cy="363.1" r="2.25"/><circle cx="802.1" cy="370.3" r="2.25"/><circle cx="796.2" cy="350.4" r="2.25"/><circle cx="793.8" cy="367.1" r="2.25"/><circle cx="782.5" cy="374.9" r="2.25"/><circle cx="821.4" cy="343.6" r="2.25"/><circle cx="777.2" cy="354.5" r="2.25"/><circle cx="811.3" cy="354.3" r="2.25"/><circle cx="808.5" cy="358.2" r="2.25"/><circle cx="780.8" cy="378.5" r="2.25"/><circle cx="805.9" cy="346.6" r="2.25"/><circle cx="782.8" cy="357.5" r="2.25"/><circle cx="822.0" cy="371.9" r="2.25"/><circle cx="780.8" cy="372.6" r="2.25"/><circle cx="774.5" cy="377.7" r="2.25"/><circle cx="769.0" cy="357.6" r="2.25"/><circle cx="788.2" cy="363.2" r="2.25"/><circle cx="793.5" cy="357.5" r="2.25"/><circle cx="813.1" cy="361.2" r="2.25"/><circle cx="773.5" cy="375.4" r="2.25"/><circle cx="780.5" cy="373.9" r="2.25"/><circle cx="786.2" cy="365.4" r="2.25"/><circle cx="786.6" cy="372.6" r="2.25"/><circle cx="814.6" cy="375.2" r="2.25"/><circle cx="771.2" cy="359.3" r="2.25"/><circle cx="803.5" cy="344.8" r="2.25"/><circle cx="780.2" cy="354.3" r="2.25"/><circle cx="781.6" cy="368.1" r="2.25"/><circle cx="781.9" cy="369.3" r="2.25"/><circle cx="770.6" cy="375.8" r="2.25"/><circle cx="800.6" cy="348.5" r="2.25"/><circle cx="786.6" cy="349.7" r="2.25"/><circle cx="793.1" cy="375.4" r="2.25"/><circle cx="797.7" cy="358.4" r="2.25"/><circle cx="805.6" cy="358.7" r="2.25"/><circle cx="813.4" cy="344.7" r="2.25"/><circle cx="792.4" cy="352.2" r="2.25"/><circle cx="786.0" cy="363.8" r="2.25"/><circle cx="772.9" cy="378.6" r="2.25"/><circle cx="806.4" cy="374.8" r="2.25"/><circle cx="793.1" cy="367.1" r="2.25"/><circle cx="794.2" cy="362.1" r="2.25"/><circle cx="783.3" cy="354.9" r="2.25"/><circle cx="784.1" cy="377.3" r="2.25"/><circle cx="787.5" cy="351.3" r="2.25"/><circle cx="776.9" cy="375.1" r="2.25"/><circle cx="819.9" cy="345.4" r="2.25"/><circle cx="770.5" cy="358.7" r="2.25"/><circle cx="781.3" cy="376.4" r="2.25"/><circle cx="799.0" cy="351.4" r="2.25"/><circle cx="790.2" cy="372.4" r="2.25"/><circle cx="796.1" cy="377.0" r="2.25"/><circle cx="782.8" cy="365.4" r="2.25"/><circle cx="803.6" cy="361.2" r="2.25"/><circle cx="772.6" cy="379.0" r="2.25"/><circle cx="810.6" cy="350.7" r="2.25"/><circle cx="794.0" cy="377.3" r="2.25"/><circle cx="799.4" cy="376.1" r="2.25"/><circle cx="782.6" cy="373.6" r="2.25"/><circle cx="787.4" cy="360.5" r="2.25"/><circle cx="777.4" cy="371.0" r="2.25"/><circle cx="774.4" cy="378.7" r="2.25"/><circle cx="778.7" cy="376.0" r="2.25"/><circle cx="777.1" cy="378.4" r="2.25"/><circle cx="779.7" cy="375.8" r="2.25"/><circle cx="794.9" cy="360.9" r="2.25"/><circle cx="788.4" cy="375.8" r="2.25"/><circle cx="773.3" cy="375.9" r="2.25"/><circle cx="777.6" cy="370.0" r="2.25"/><circle cx="779.4" cy="378.6" r="2.25"/><circle cx="771.8" cy="372.2" r="2.25"/><circle cx="788.4" cy="361.1" r="2.25"/><circle cx="772.7" cy="376.1" r="2.25"/><circle cx="806.4" cy="363.3" r="2.25"/><circle cx="818.5" cy="371.6" r="2.25"/><circle cx="799.7" cy="345.1" r="2.25"/><circle cx="775.4" cy="366.8" r="2.25"/><circle cx="785.1" cy="372.0" r="2.25"/><circle cx="776.8" cy="379.0" r="2.25"/><circle cx="810.1" cy="366.2" r="2.25"/><circle cx="777.9" cy="366.3" r="2.25"/><circle cx="820.3" cy="352.4" r="2.25"/><circle cx="775.1" cy="368.9" r="2.25"/><circle cx="774.2" cy="369.0" r="2.25"/><circle cx="798.4" cy="370.2" r="2.25"/><circle cx="807.8" cy="366.9" r="2.25"/><circle cx="774.3" cy="375.4" r="2.25"/><circle cx="788.9" cy="353.6" r="2.25"/><circle cx="816.9" cy="369.7" r="2.25"/><circle cx="807.0" cy="343.8" r="2.25"/><circle cx="788.4" cy="359.3" r="2.25"/><circle cx="807.6" cy="348.0" r="2.25"/><circle cx="786.4" cy="377.0" r="2.25"/><circle cx="770.8" cy="372.0" r="2.25"/><circle cx="803.4" cy="350.4" r="2.25"/><circle cx="783.0" cy="356.3" r="2.25"/><circle cx="769.9" cy="376.4" r="2.25"/><circle cx="776.9" cy="371.0" r="2.25"/><circle cx="787.6" cy="370.6" r="2.25"/><circle cx="801.9" cy="352.4" r="2.25"/><circle cx="796.1" cy="349.4" r="2.25"/><circle cx="802.3" cy="372.0" r="2.25"/><circle cx="812.8" cy="365.0" r="2.25"/><circle cx="817.5" cy="347.6" r="2.25"/><circle cx="798.2" cy="369.5" r="2.25"/><circle cx="772.3" cy="365.4" r="2.25"/><circle cx="808.7" cy="370.0" r="2.25"/><circle cx="811.1" cy="361.6" r="2.25"/><circle cx="813.1" cy="373.8" r="2.25"/><circle cx="799.6" cy="362.2" r="2.25"/><circle cx="789.9" cy="376.5" r="2.25"/><circle cx="774.8" cy="379.0" r="2.25"/><circle cx="777.5" cy="375.7" r="2.25"/><circle cx="803.6" cy="361.1" r="2.25"/><circle cx="814.0" cy="366.5" r="2.25"/><circle cx="772.4" cy="372.5" r="2.25"/><circle cx="772.4" cy="379.0" r="2.25"/><circle cx="773.8" cy="373.0" r="2.25"/><circle cx="812.4" cy="354.1" r="2.25"/><circle cx="806.7" cy="358.9" r="2.25"/><circle cx="824.5" cy="361.8" r="2.25"/><circle cx="823.4" cy="371.0" r="2.25"/><circle cx="824.8" cy="360.0" r="2.25"/><circle cx="823.8" cy="355.2" r="2.25"/><circle cx="807.0" cy="359.8" r="2.25"/><circle cx="811.7" cy="362.1" r="2.25"/><circle cx="808.5" cy="354.5" r="2.25"/><circle cx="825.5" cy="348.2" r="2.25"/><circle cx="820.1" cy="358.5" r="2.25"/><circle cx="812.0" cy="362.9" r="2.25"/><circle cx="815.5" cy="359.3" r="2.25"/><circle cx="825.5" cy="364.8" r="2.25"/><circle cx="807.3" cy="353.3" r="2.25"/><circle cx="825.9" cy="357.3" r="2.25"/><circle cx="807.5" cy="363.1" r="2.25"/><circle cx="822.6" cy="364.9" r="2.25"/><circle cx="807.3" cy="365.5" r="2.25"/><circle cx="826.1" cy="356.7" r="2.25"/><circle cx="832.8" cy="356.0" r="2.25"/><circle cx="823.0" cy="372.9" r="2.25"/><circle cx="814.7" cy="357.5" r="2.25"/><circle cx="830.3" cy="357.4" r="2.25"/><circle cx="827.3" cy="357.0" r="2.25"/><circle cx="826.7" cy="358.1" r="2.25"/><circle cx="813.7" cy="360.7" r="2.25"/><circle cx="818.2" cy="372.3" r="2.25"/><circle cx="831.2" cy="364.2" r="2.25"/><circle cx="809.4" cy="366.9" r="2.25"/><circle cx="838.9" cy="363.6" r="2.25"/><circle cx="804.2" cy="353.2" r="2.25"/><circle cx="813.7" cy="355.3" r="2.25"/><circle cx="809.8" cy="361.7" r="2.25"/><circle cx="808.6" cy="351.9" r="2.25"/><circle cx="830.7" cy="364.3" r="2.25"/><circle cx="818.7" cy="364.1" r="2.25"/><circle cx="817.0" cy="348.8" r="2.25"/><circle cx="799.3" cy="376.5" r="2.25"/><circle cx="795.0" cy="378.3" r="2.25"/><circle cx="769.7" cy="377.5" r="2.25"/><circle cx="780.3" cy="376.0" r="2.25"/><circle cx="796.4" cy="376.1" r="2.25"/><circle cx="806.1" cy="375.3" r="2.25"/><circle cx="778.5" cy="378.2" r="2.25"/><circle cx="785.7" cy="377.7" r="2.25"/><circle cx="799.0" cy="376.2" r="2.25"/><circle cx="817.2" cy="371.8" r="2.25"/><circle cx="772.5" cy="375.8" r="2.25"/><circle cx="807.6" cy="374.6" r="2.25"/><circle cx="752.5" cy="378.8" r="2.25"/><circle cx="799.5" cy="375.2" r="2.25"/><circle cx="759.4" cy="378.6" r="2.25"/><circle cx="808.7" cy="374.9" r="2.25"/><circle cx="783.7" cy="377.6" r="2.25"/><circle cx="755.4" cy="379.7" r="2.25"/><circle cx="812.2" cy="372.1" r="2.25"/><circle cx="795.3" cy="376.4" r="2.25"/><circle cx="786.5" cy="378.1" r="2.25"/><circle cx="784.8" cy="377.7" r="2.25"/><circle cx="778.3" cy="377.8" r="2.25"/><circle cx="775.9" cy="377.0" r="2.25"/><circle cx="798.3" cy="375.4" r="2.25"/><circle cx="802.4" cy="375.9" r="2.25"/><circle cx="743.9" cy="382.5" r="2.25"/><circle cx="764.5" cy="378.3" r="2.25"/><circle cx="765.1" cy="378.9" r="2.25"/><circle cx="802.4" cy="376.7" r="2.25"/><circle cx="795.6" cy="375.6" r="2.25"/><circle cx="809.2" cy="373.9" r="2.25"/><circle cx="794.7" cy="375.1" r="2.25"/><circle cx="800.9" cy="375.0" r="2.25"/><circle cx="799.9" cy="374.3" r="2.25"/><circle cx="747.4" cy="380.6" r="2.25"/><circle cx="801.4" cy="376.6" r="2.25"/><circle cx="813.5" cy="373.3" r="2.25"/><circle cx="807.9" cy="374.6" r="2.25"/><circle cx="742.0" cy="382.5" r="2.25"/><circle cx="781.8" cy="376.0" r="2.25"/><circle cx="756.8" cy="378.6" r="2.25"/><circle cx="821.1" cy="371.3" r="2.25"/><circle cx="771.4" cy="376.1" r="2.25"/><circle cx="821.6" cy="370.5" r="2.25"/><circle cx="795.7" cy="375.7" r="2.25"/><circle cx="771.1" cy="377.6" r="2.25"/><circle cx="776.6" cy="376.5" r="2.25"/><circle cx="770.3" cy="377.9" r="2.25"/><circle cx="791.1" cy="378.5" r="2.25"/><circle cx="784.7" cy="377.1" r="2.25"/><circle cx="818.7" cy="371.1" r="2.25"/><circle cx="740.9" cy="383.0" r="2.25"/><circle cx="759.6" cy="379.4" r="2.25"/><circle cx="769.7" cy="376.4" r="2.25"/><circle cx="767.1" cy="380.0" r="2.25"/><circle cx="761.7" cy="378.8" r="2.25"/><circle cx="755.3" cy="378.6" r="2.25"/><circle cx="773.5" cy="375.2" r="2.25"/><circle cx="803.1" cy="376.2" r="2.25"/></g>
<line class="gr" x1="731.0" y1="15" x2="731.0" y2="502"/><line class="gr" x1="930.0" y1="15" x2="930.0" y2="502"/><line class="gr" x1="1129.0" y1="15" x2="1129.0" y2="502"/><line class="gr" x1="711" y1="109.5" x2="1145" y2="109.5"/><line class="gr" x1="711" y1="205.0" x2="1145" y2="205.0"/><line class="gr" x1="711" y1="300.5" x2="1145" y2="300.5"/><line class="gr" x1="711" y1="396.0" x2="1145" y2="396.0"/><line class="gr" x1="711" y1="491.5" x2="1145" y2="491.5"/></g>
<line class="tk" x1="731.0" y1="502" x2="731.0" y2="510.3"/><text class="t" x="731.0" y="541.6" text-anchor="middle">0</text>
<line class="tk" x1="930.0" y1="502" x2="930.0" y2="510.3"/><text class="t" x="930.0" y="541.6" text-anchor="middle">5</text>
<line class="tk" x1="1129.0" y1="502" x2="1129.0" y2="510.3"/><text class="t" x="1129.0" y="541.6" text-anchor="middle">10</text>
<line class="tk" x1="702.7" y1="109.5" x2="711" y2="109.5"/><text class="t" x="695.7" y="122.8" text-anchor="end">15</text>
<line class="tk" x1="702.7" y1="205.0" x2="711" y2="205.0"/><text class="t" x="695.7" y="218.3" text-anchor="end">10</text>
<line class="tk" x1="702.7" y1="300.5" x2="711" y2="300.5"/><text class="t" x="695.7" y="313.8" text-anchor="end">5</text>
<line class="tk" x1="702.7" y1="396.0" x2="711" y2="396.0"/><text class="t" x="695.7" y="409.3" text-anchor="end">0</text>
<line class="tk" x1="702.7" y1="491.5" x2="711" y2="491.5"/><text class="t" x="695.7" y="504.8" text-anchor="end">−5</text>
<rect class="sp" x="711" y="15" width="434" height="487"/>
<text class="t" x="927.6" y="582" text-anchor="middle">mean expressions of genes</text>
<text class="t" transform="translate(39.2,260.4) rotate(-90)" text-anchor="middle">dispersions of genes (normalized)</text>
<text class="t" transform="translate(632.7,259.3) rotate(-90)" text-anchor="middle">dispersions of genes (not normalized)</text>
</svg>
</body></html>
